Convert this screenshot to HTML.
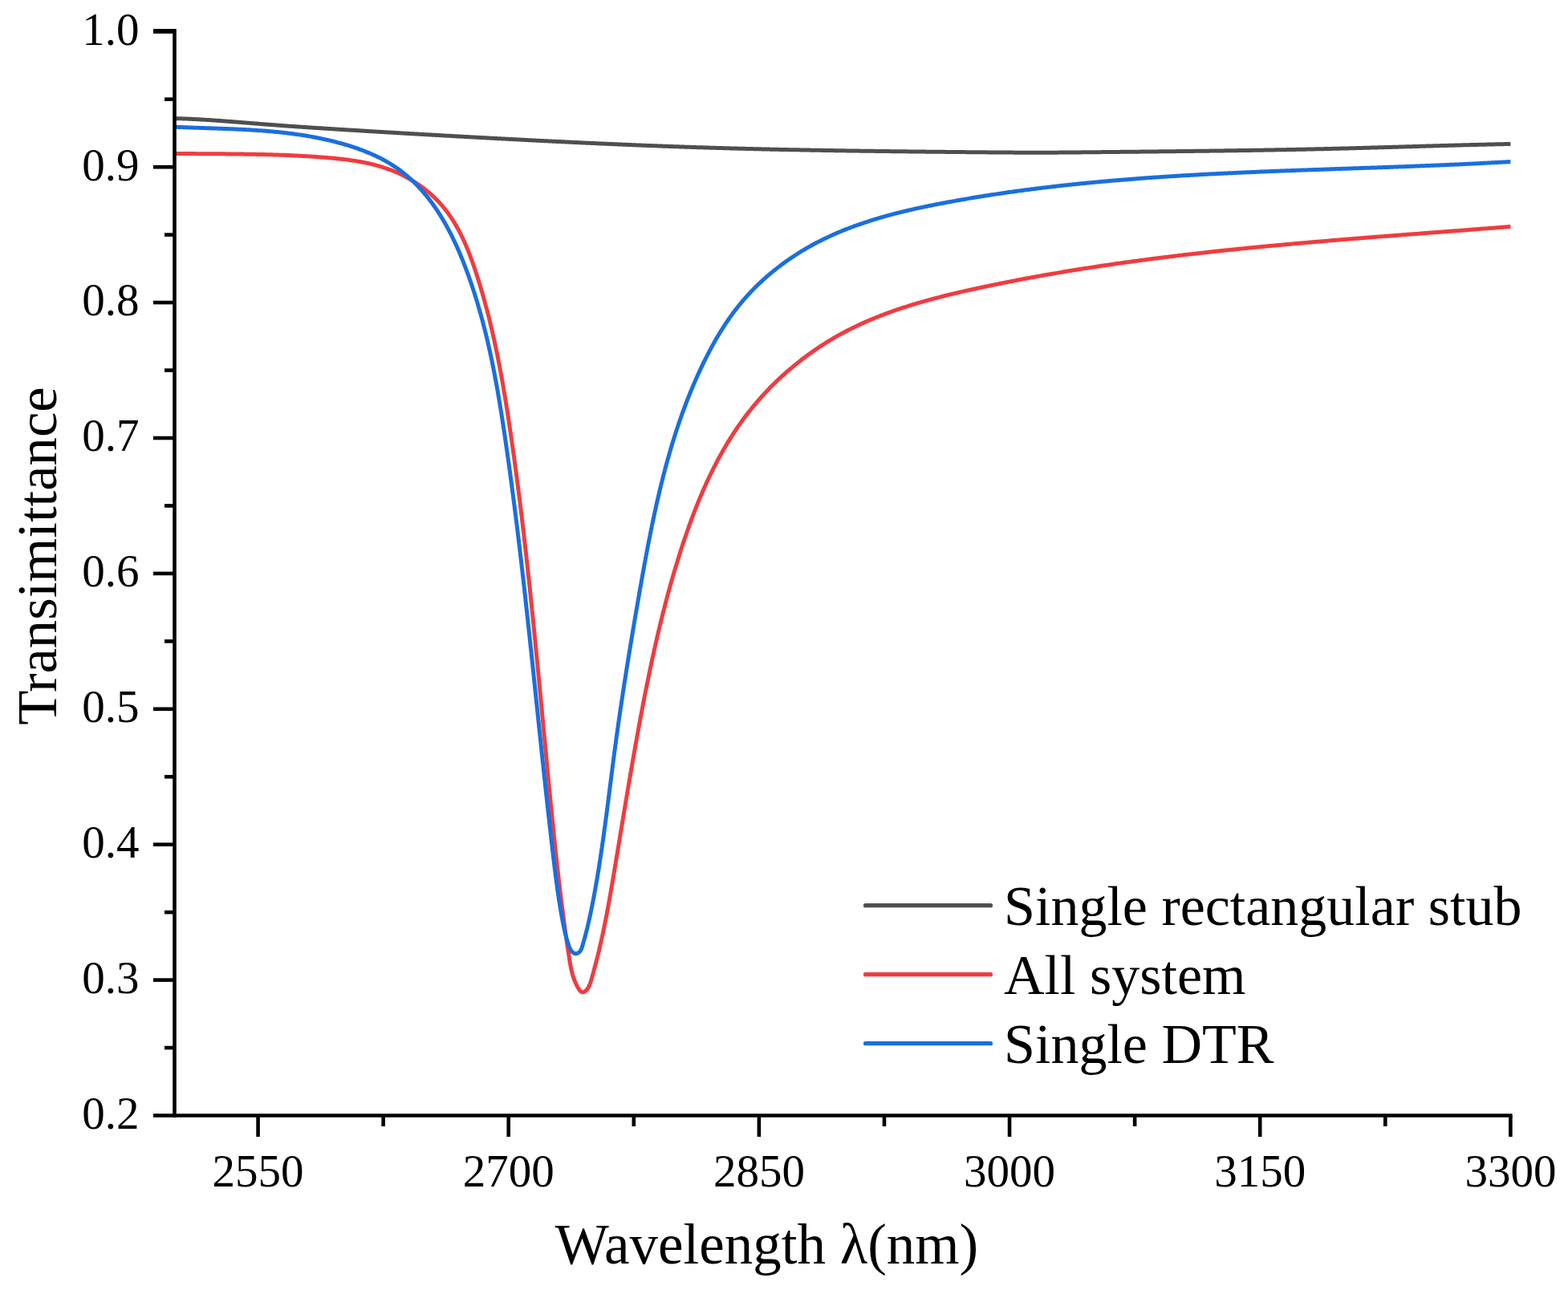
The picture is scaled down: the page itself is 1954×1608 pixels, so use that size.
<!DOCTYPE html>
<html><head><meta charset="utf-8"><title>Transimittance</title>
<style>
html,body{margin:0;padding:0;background:#fff;}
body{width:1954px;height:1608px;overflow:hidden;}
svg{display:block;}
text{font-family:"Liberation Serif","Times New Roman",serif;fill:#000;}
</style></head><body>
<svg width="1954" height="1608" viewBox="0 0 1954 1608">
<rect width="1954" height="1608" fill="#fff"/>
<polyline fill="none" stroke="#4f4f4f" stroke-width="5.0" stroke-linejoin="round" stroke-linecap="butt" points="217.50,147.58 218.33,147.60 219.17,147.62 220.00,147.64 220.84,147.67 221.67,147.69 222.50,147.72 223.34,147.74 224.17,147.77 225.00,147.80 225.84,147.83 226.67,147.86 227.50,147.89 228.34,147.92 229.17,147.95 230.00,147.98 230.83,148.02 231.67,148.05 232.50,148.08 233.33,148.12 234.17,148.15 235.00,148.19 235.83,148.23 236.66,148.27 237.50,148.30 238.33,148.34 239.16,148.38 239.99,148.42 240.83,148.46 241.66,148.51 242.49,148.55 243.32,148.59 244.16,148.63 244.99,148.68 245.82,148.72 246.65,148.77 247.48,148.81 248.32,148.86 249.15,148.91 249.98,148.95 250.81,149.00 251.64,149.05 252.48,149.10 253.31,149.15 254.14,149.20 254.97,149.25 255.80,149.30 256.63,149.35 257.47,149.40 258.30,149.45 259.13,149.51 259.96,149.56 260.79,149.61 261.62,149.67 262.46,149.72 263.29,149.78 264.12,149.83 264.95,149.89 265.78,149.94 266.61,150.00 267.45,150.06 268.28,150.12 269.11,150.17 269.94,150.23 270.77,150.29 271.60,150.35 272.43,150.41 273.26,150.47 274.10,150.53 274.93,150.59 275.76,150.65 276.59,150.71 277.42,150.77 278.25,150.83 279.08,150.89 279.91,150.95 280.74,151.02 281.58,151.08 282.41,151.14 283.24,151.20 284.07,151.27 284.90,151.33 285.73,151.39 286.56,151.46 287.39,151.52 288.22,151.59 289.05,151.65 289.88,151.72 290.72,151.78 291.55,151.85 292.38,151.91 293.21,151.98 294.04,152.04 294.87,152.11 295.70,152.17 296.53,152.24 297.36,152.30 298.19,152.37 299.02,152.44 299.85,152.50 300.69,152.57 301.52,152.64 302.35,152.70 303.18,152.77 304.01,152.84 304.84,152.90 305.67,152.97 306.50,153.04 307.33,153.11 308.16,153.17 308.99,153.24 309.82,153.31 310.65,153.37 311.49,153.44 312.32,153.51 313.15,153.58 313.98,153.64 314.81,153.71 315.64,153.78 316.47,153.84 317.30,153.91 318.13,153.98 318.96,154.04 319.79,154.11 320.62,154.18 321.46,154.24 322.29,154.31 323.12,154.38 323.95,154.44 324.78,154.51 325.61,154.58 326.44,154.64 327.27,154.71 328.10,154.77 328.93,154.84 329.76,154.90 330.59,154.97 331.43,155.04 332.26,155.10 333.09,155.17 333.92,155.23 334.75,155.29 335.58,155.36 336.41,155.42 337.24,155.49 338.07,155.55 338.90,155.61 339.74,155.68 340.57,155.74 341.40,155.80 342.23,155.86 343.06,155.93 343.89,155.99 344.72,156.05 345.55,156.11 346.39,156.17 347.22,156.24 348.05,156.30 348.88,156.36 349.71,156.42 350.54,156.48 351.37,156.54 352.20,156.60 353.04,156.66 353.87,156.72 354.70,156.78 355.53,156.84 356.36,156.90 357.19,156.96 358.02,157.02 358.85,157.08 359.69,157.14 360.52,157.20 361.35,157.26 362.18,157.31 363.01,157.37 363.84,157.43 364.67,157.49 365.51,157.55 366.34,157.60 367.17,157.66 368.00,157.72 368.83,157.78 369.66,157.83 370.50,157.89 371.33,157.95 372.16,158.00 372.99,158.06 373.82,158.12 374.65,158.17 375.48,158.23 376.32,158.29 377.15,158.34 377.98,158.40 378.81,158.45 379.64,158.51 380.47,158.57 381.31,158.62 382.14,158.68 382.97,158.73 383.80,158.79 384.63,158.84 385.46,158.90 386.30,158.95 387.13,159.01 387.96,159.06 388.79,159.12 389.62,159.17 390.45,159.22 391.29,159.28 392.12,159.33 392.95,159.39 393.78,159.44 394.61,159.49 395.44,159.55 396.28,159.60 397.11,159.66 397.94,159.71 398.77,159.76 399.60,159.82 400.44,159.87 401.27,159.92 402.10,159.98 402.93,160.03 403.76,160.08 404.59,160.13 405.43,160.19 406.26,160.24 407.09,160.29 407.92,160.35 408.75,160.40 409.59,160.45 410.42,160.50 411.25,160.56 412.08,160.61 412.91,160.66 413.74,160.71 414.58,160.76 415.41,160.82 416.24,160.87 417.07,160.92 417.90,160.97 418.74,161.02 419.57,161.08 420.40,161.13 421.23,161.18 422.06,161.23 422.90,161.28 423.73,161.34 424.56,161.39 425.39,161.44 426.22,161.49 427.05,161.54 427.89,161.59 428.72,161.64 429.55,161.70 430.38,161.75 431.21,161.80 432.05,161.85 432.88,161.90 433.71,161.95 434.54,162.00 435.37,162.06 436.21,162.11 437.04,162.16 437.87,162.21 438.70,162.26 439.53,162.31 440.37,162.36 441.20,162.41 442.03,162.46 442.86,162.52 443.69,162.57 444.52,162.62 445.36,162.67 446.19,162.72 447.02,162.77 447.85,162.82 448.68,162.87 449.52,162.92 450.35,162.97 451.18,163.02 452.01,163.07 452.84,163.12 453.68,163.17 454.51,163.22 455.34,163.27 456.17,163.33 457.00,163.38 457.84,163.43 458.67,163.48 459.50,163.53 460.33,163.58 461.16,163.63 462.00,163.68 462.83,163.73 463.66,163.78 464.49,163.83 465.32,163.88 466.15,163.93 466.99,163.98 467.82,164.03 468.65,164.08 469.48,164.13 470.31,164.18 471.15,164.23 471.98,164.28 472.81,164.33 473.64,164.38 474.47,164.43 475.31,164.47 476.14,164.52 476.97,164.57 477.80,164.62 478.63,164.67 479.47,164.72 480.30,164.77 481.13,164.82 481.96,164.87 482.79,164.92 483.63,164.97 484.46,165.02 485.29,165.07 486.12,165.12 486.95,165.17 487.79,165.21 488.62,165.26 489.45,165.31 490.28,165.36 491.11,165.41 491.95,165.46 492.78,165.51 493.61,165.56 494.44,165.61 495.27,165.66 496.11,165.70 496.94,165.75 497.77,165.80 498.60,165.85 499.43,165.90 500.27,165.95 501.10,166.00 501.93,166.04 502.76,166.09 503.59,166.14 504.43,166.19 505.26,166.24 506.09,166.29 506.92,166.34 507.75,166.38 508.59,166.43 509.42,166.48 510.25,166.53 511.08,166.58 511.91,166.63 512.75,166.67 513.58,166.72 514.41,166.77 515.24,166.82 516.07,166.87 516.91,166.91 517.74,166.96 518.57,167.01 519.40,167.06 520.24,167.11 521.07,167.15 521.90,167.20 522.73,167.25 523.56,167.30 524.40,167.34 525.23,167.39 526.06,167.44 526.89,167.49 527.72,167.54 528.56,167.58 529.39,167.63 530.22,167.68 531.05,167.73 531.88,167.77 532.72,167.82 533.55,167.87 534.38,167.91 535.21,167.96 536.04,168.01 536.88,168.06 537.71,168.10 538.54,168.15 539.37,168.20 540.21,168.25 541.04,168.29 541.87,168.34 542.70,168.39 543.53,168.43 544.37,168.48 545.20,168.53 546.03,168.57 546.86,168.62 547.69,168.67 548.53,168.71 549.36,168.76 550.19,168.81 551.02,168.86 551.85,168.90 552.69,168.95 553.52,169.00 554.35,169.04 555.18,169.09 556.02,169.13 556.85,169.18 557.68,169.23 558.51,169.27 559.34,169.32 560.18,169.37 561.01,169.41 561.84,169.46 562.67,169.51 563.50,169.55 564.34,169.60 565.17,169.65 566.00,169.69 566.83,169.74 567.67,169.78 568.50,169.83 569.33,169.88 570.16,169.92 570.99,169.97 571.83,170.01 572.66,170.06 573.49,170.11 574.32,170.15 575.16,170.20 575.99,170.24 576.82,170.29 577.65,170.33 578.48,170.38 579.32,170.43 580.15,170.47 580.98,170.52 581.81,170.56 582.65,170.61 583.48,170.65 584.31,170.70 585.14,170.75 585.97,170.79 586.81,170.84 587.64,170.88 588.47,170.93 589.30,170.97 590.14,171.02 590.97,171.06 591.80,171.11 592.63,171.15 593.46,171.20 594.30,171.24 595.13,171.29 595.96,171.33 596.79,171.38 597.63,171.43 598.46,171.47 599.29,171.52 600.12,171.56 600.95,171.61 601.79,171.65 602.62,171.69 603.45,171.74 604.28,171.78 605.12,171.83 605.95,171.87 606.78,171.92 607.61,171.96 608.44,172.01 609.28,172.05 610.11,172.10 610.94,172.14 611.77,172.19 612.61,172.23 613.44,172.28 614.27,172.32 615.10,172.37 615.94,172.41 616.77,172.45 617.60,172.50 618.43,172.54 619.26,172.59 620.10,172.63 620.93,172.68 621.76,172.72 622.59,172.76 623.43,172.81 624.26,172.85 625.09,172.90 625.92,172.94 626.76,172.98 627.59,173.03 628.42,173.07 629.25,173.12 630.08,173.16 630.92,173.20 631.75,173.25 632.58,173.29 633.41,173.34 634.25,173.38 635.08,173.42 635.91,173.47 636.74,173.51 637.58,173.55 638.41,173.60 639.24,173.64 640.07,173.68 640.91,173.73 641.74,173.77 642.57,173.81 643.40,173.86 644.24,173.90 645.07,173.94 645.90,173.99 646.73,174.03 647.56,174.07 648.40,174.12 649.23,174.16 650.06,174.20 650.89,174.25 651.73,174.29 652.56,174.33 653.39,174.37 654.22,174.42 655.06,174.46 655.89,174.50 656.72,174.54 657.55,174.59 658.39,174.63 659.22,174.67 660.05,174.72 660.88,174.76 661.72,174.80 662.55,174.84 663.38,174.88 664.21,174.93 665.05,174.97 665.88,175.01 666.71,175.05 667.54,175.10 668.38,175.14 669.21,175.18 670.04,175.22 670.87,175.26 671.71,175.31 672.54,175.35 673.37,175.39 674.20,175.43 675.03,175.47 675.87,175.52 676.70,175.56 677.53,175.60 678.36,175.64 679.20,175.68 680.03,175.72 680.86,175.76 681.69,175.81 682.53,175.85 683.36,175.89 684.19,175.93 685.02,175.97 685.86,176.01 686.69,176.05 687.52,176.09 688.35,176.14 689.19,176.18 690.02,176.22 690.85,176.26 691.68,176.30 692.52,176.34 693.35,176.38 694.18,176.42 695.01,176.46 695.85,176.50 696.68,176.54 697.51,176.58 698.35,176.62 699.18,176.67 700.01,176.71 700.84,176.75 701.68,176.79 702.51,176.83 703.34,176.87 704.17,176.91 705.01,176.95 705.84,176.99 706.67,177.03 707.50,177.07 708.34,177.11 709.17,177.15 710.00,177.19 710.83,177.23 711.67,177.27 712.50,177.31 713.33,177.34 714.16,177.38 715.00,177.42 715.83,177.46 716.66,177.50 717.49,177.54 718.33,177.58 719.16,177.62 719.99,177.66 720.82,177.70 721.66,177.74 722.49,177.78 723.32,177.82 724.15,177.85 724.99,177.89 725.82,177.93 726.65,177.97 727.49,178.01 728.32,178.05 729.15,178.09 729.98,178.13 730.82,178.16 731.65,178.20 732.48,178.24 733.31,178.28 734.15,178.32 734.98,178.36 735.81,178.39 736.64,178.43 737.48,178.47 738.31,178.51 739.14,178.55 739.97,178.58 740.81,178.62 741.64,178.66 742.47,178.70 743.31,178.73 744.14,178.77 744.97,178.81 745.80,178.85 746.64,178.88 747.47,178.92 748.30,178.96 749.13,179.00 749.97,179.03 750.80,179.07 751.63,179.11 752.47,179.14 753.30,179.18 754.13,179.22 754.96,179.25 755.80,179.29 756.63,179.33 757.46,179.36 758.29,179.40 759.13,179.44 759.96,179.47 760.79,179.51 761.62,179.55 762.46,179.58 763.29,179.62 764.12,179.66 764.96,179.69 765.79,179.73 766.62,179.76 767.45,179.80 768.29,179.84 769.12,179.87 769.95,179.91 770.78,179.94 771.62,179.98 772.45,180.01 773.28,180.05 774.12,180.08 774.95,180.12 775.78,180.15 776.61,180.19 777.45,180.23 778.28,180.26 779.11,180.30 779.95,180.33 780.78,180.36 781.61,180.40 782.44,180.43 783.28,180.47 784.11,180.50 784.94,180.54 785.77,180.57 786.61,180.61 787.44,180.64 788.27,180.68 789.11,180.71 789.94,180.74 790.77,180.78 791.60,180.81 792.44,180.85 793.27,180.88 794.10,180.91 794.94,180.95 795.77,180.98 796.60,181.01 797.43,181.05 798.27,181.08 799.10,181.12 799.93,181.15 800.77,181.18 801.60,181.21 802.43,181.25 803.26,181.28 804.10,181.31 804.93,181.35 805.76,181.38 806.60,181.41 807.43,181.45 808.26,181.48 809.09,181.51 809.93,181.54 810.76,181.58 811.59,181.61 812.43,181.64 813.26,181.67 814.09,181.70 814.92,181.74 815.76,181.77 816.59,181.80 817.42,181.83 818.26,181.86 819.09,181.90 819.92,181.93 820.75,181.96 821.59,181.99 822.42,182.02 823.25,182.05 824.09,182.08 824.92,182.12 825.75,182.15 826.58,182.18 827.42,182.21 828.25,182.24 829.08,182.27 829.92,182.30 830.75,182.33 831.58,182.36 832.41,182.39 833.25,182.42 834.08,182.45 834.91,182.48 835.75,182.51 836.58,182.54 837.41,182.57 838.25,182.60 839.08,182.63 839.91,182.66 840.74,182.69 841.58,182.72 842.41,182.75 843.24,182.78 844.08,182.81 844.91,182.84 845.74,182.87 846.57,182.90 847.41,182.93 848.24,182.96 849.07,182.99 849.91,183.01 850.74,183.04 851.57,183.07 852.41,183.10 853.24,183.13 854.07,183.16 854.90,183.19 855.74,183.21 856.57,183.24 857.40,183.27 858.24,183.30 859.07,183.33 859.90,183.36 860.74,183.38 861.57,183.41 862.40,183.44 863.23,183.47 864.07,183.49 864.90,183.52 865.73,183.55 866.57,183.58 867.40,183.60 868.23,183.63 869.07,183.66 869.90,183.68 870.73,183.71 871.57,183.74 872.40,183.76 873.23,183.79 874.06,183.82 874.90,183.84 875.73,183.87 876.56,183.90 877.40,183.92 878.23,183.95 879.06,183.97 879.90,184.00 880.73,184.03 881.56,184.05 882.39,184.08 883.23,184.10 884.06,184.13 884.89,184.15 885.73,184.18 886.56,184.20 887.39,184.23 888.23,184.25 889.06,184.28 889.89,184.30 890.73,184.33 891.56,184.35 892.39,184.38 893.23,184.40 894.06,184.43 894.89,184.45 895.72,184.48 896.56,184.50 897.39,184.53 898.22,184.55 899.06,184.57 899.89,184.60 900.72,184.62 901.56,184.64 902.39,184.67 903.22,184.69 904.06,184.72 904.89,184.74 905.72,184.76 906.56,184.79 907.39,184.81 908.22,184.83 909.05,184.86 909.89,184.88 910.72,184.90 911.55,184.92 912.39,184.95 913.22,184.97 914.05,184.99 914.89,185.01 915.72,185.04 916.55,185.06 917.39,185.08 918.22,185.10 919.05,185.13 919.89,185.15 920.72,185.17 921.55,185.19 922.39,185.21 923.22,185.24 924.05,185.26 924.88,185.28 925.72,185.30 926.55,185.32 927.38,185.34 928.22,185.37 929.05,185.39 929.88,185.41 930.72,185.43 931.55,185.45 932.38,185.47 933.22,185.49 934.05,185.51 934.88,185.53 935.72,185.55 936.55,185.58 937.38,185.60 938.22,185.62 939.05,185.64 939.88,185.66 940.72,185.68 941.55,185.70 942.38,185.72 943.22,185.74 944.05,185.76 944.88,185.78 945.72,185.80 946.55,185.82 947.38,185.84 948.21,185.86 949.05,185.88 949.88,185.90 950.71,185.92 951.55,185.94 952.38,185.95 953.21,185.97 954.05,185.99 954.88,186.01 955.71,186.03 956.55,186.05 957.38,186.07 958.21,186.09 959.05,186.11 959.88,186.13 960.71,186.14 961.55,186.16 962.38,186.18 963.21,186.20 964.05,186.22 964.88,186.24 965.71,186.26 966.55,186.27 967.38,186.29 968.21,186.31 969.05,186.33 969.88,186.35 970.71,186.36 971.55,186.38 972.38,186.40 973.21,186.42 974.05,186.43 974.88,186.45 975.71,186.47 976.55,186.49 977.38,186.50 978.21,186.52 979.05,186.54 979.88,186.56 980.71,186.57 981.55,186.59 982.38,186.61 983.21,186.63 984.05,186.64 984.88,186.66 985.71,186.68 986.55,186.69 987.38,186.71 988.21,186.73 989.05,186.74 989.88,186.76 990.71,186.78 991.55,186.79 992.38,186.81 993.21,186.82 994.05,186.84 994.88,186.86 995.71,186.87 996.55,186.89 997.38,186.91 998.21,186.92 999.05,186.94 999.88,186.95 1000.71,186.97 1001.55,186.98 1002.38,187.00 1003.21,187.02 1004.05,187.03 1004.88,187.05 1005.71,187.06 1006.55,187.08 1007.38,187.09 1008.21,187.11 1009.05,187.12 1009.88,187.14 1010.71,187.15 1011.55,187.17 1012.38,187.18 1013.21,187.20 1014.05,187.21 1014.88,187.23 1015.71,187.24 1016.55,187.26 1017.38,187.27 1018.21,187.29 1019.05,187.30 1019.88,187.32 1020.71,187.33 1021.55,187.35 1022.38,187.36 1023.21,187.37 1024.05,187.39 1024.88,187.40 1025.71,187.42 1026.55,187.43 1027.38,187.45 1028.21,187.46 1029.05,187.47 1029.88,187.49 1030.71,187.50 1031.55,187.52 1032.38,187.53 1033.21,187.54 1034.05,187.56 1034.88,187.57 1035.71,187.58 1036.55,187.60 1037.38,187.61 1038.21,187.62 1039.05,187.64 1039.88,187.65 1040.71,187.66 1041.55,187.68 1042.38,187.69 1043.21,187.70 1044.05,187.72 1044.88,187.73 1045.72,187.74 1046.55,187.76 1047.38,187.77 1048.22,187.78 1049.05,187.80 1049.88,187.81 1050.72,187.82 1051.55,187.83 1052.38,187.85 1053.22,187.86 1054.05,187.87 1054.88,187.88 1055.72,187.90 1056.55,187.91 1057.38,187.92 1058.22,187.93 1059.05,187.95 1059.88,187.96 1060.72,187.97 1061.55,187.98 1062.38,188.00 1063.22,188.01 1064.05,188.02 1064.88,188.03 1065.72,188.04 1066.55,188.06 1067.38,188.07 1068.22,188.08 1069.05,188.09 1069.88,188.10 1070.72,188.12 1071.55,188.13 1072.38,188.14 1073.22,188.15 1074.05,188.16 1074.88,188.17 1075.72,188.19 1076.55,188.20 1077.39,188.21 1078.22,188.22 1079.05,188.23 1079.89,188.24 1080.72,188.25 1081.55,188.27 1082.39,188.28 1083.22,188.29 1084.05,188.30 1084.89,188.31 1085.72,188.32 1086.55,188.33 1087.39,188.34 1088.22,188.35 1089.05,188.37 1089.89,188.38 1090.72,188.39 1091.55,188.40 1092.39,188.41 1093.22,188.42 1094.05,188.43 1094.89,188.44 1095.72,188.45 1096.55,188.46 1097.39,188.47 1098.22,188.48 1099.05,188.49 1099.89,188.51 1100.72,188.52 1101.55,188.53 1102.39,188.54 1103.22,188.55 1104.06,188.56 1104.89,188.57 1105.72,188.58 1106.56,188.59 1107.39,188.60 1108.22,188.61 1109.06,188.62 1109.89,188.63 1110.72,188.64 1111.56,188.65 1112.39,188.66 1113.22,188.67 1114.06,188.68 1114.89,188.69 1115.72,188.70 1116.56,188.71 1117.39,188.72 1118.22,188.73 1119.06,188.74 1119.89,188.75 1120.72,188.76 1121.56,188.77 1122.39,188.78 1123.22,188.79 1124.06,188.80 1124.89,188.81 1125.73,188.82 1126.56,188.83 1127.39,188.84 1128.23,188.85 1129.06,188.85 1129.89,188.86 1130.73,188.87 1131.56,188.88 1132.39,188.89 1133.23,188.90 1134.06,188.91 1134.89,188.92 1135.73,188.93 1136.56,188.94 1137.39,188.95 1138.23,188.96 1139.06,188.97 1139.89,188.98 1140.73,188.99 1141.56,188.99 1142.39,189.00 1143.23,189.01 1144.06,189.02 1144.89,189.03 1145.73,189.04 1146.56,189.05 1147.40,189.06 1148.23,189.07 1149.06,189.08 1149.90,189.09 1150.73,189.09 1151.56,189.10 1152.40,189.11 1153.23,189.12 1154.06,189.13 1154.90,189.14 1155.73,189.15 1156.56,189.16 1157.40,189.16 1158.23,189.17 1159.06,189.18 1159.90,189.19 1160.73,189.20 1161.56,189.21 1162.40,189.22 1163.23,189.23 1164.06,189.23 1164.90,189.24 1165.73,189.25 1166.56,189.26 1167.40,189.27 1168.23,189.28 1169.07,189.29 1169.90,189.29 1170.73,189.30 1171.57,189.31 1172.40,189.32 1173.23,189.33 1174.07,189.34 1174.90,189.34 1175.73,189.35 1176.57,189.36 1177.40,189.37 1178.23,189.38 1179.07,189.39 1179.90,189.39 1180.73,189.40 1181.57,189.41 1182.40,189.42 1183.23,189.43 1184.07,189.44 1184.90,189.44 1185.73,189.45 1186.57,189.46 1187.40,189.47 1188.23,189.48 1189.07,189.49 1189.90,189.49 1190.74,189.50 1191.57,189.51 1192.40,189.52 1193.24,189.53 1194.07,189.53 1194.90,189.54 1195.74,189.55 1196.57,189.56 1197.40,189.57 1198.24,189.57 1199.07,189.58 1199.90,189.59 1200.74,189.60 1201.57,189.61 1202.40,189.61 1203.24,189.62 1204.07,189.63 1204.90,189.64 1205.74,189.65 1206.57,189.65 1207.40,189.66 1208.24,189.67 1209.07,189.68 1209.90,189.69 1210.74,189.69 1211.57,189.70 1212.40,189.71 1213.24,189.72 1214.07,189.73 1214.90,189.73 1215.74,189.74 1216.57,189.75 1217.41,189.76 1218.24,189.77 1219.07,189.77 1219.91,189.78 1220.74,189.79 1221.57,189.80 1222.41,189.80 1223.24,189.81 1224.07,189.82 1224.91,189.83 1225.74,189.84 1226.57,189.84 1227.41,189.85 1228.24,189.86 1229.07,189.87 1229.91,189.87 1230.74,189.88 1231.57,189.89 1232.41,189.90 1233.24,189.90 1234.07,189.91 1234.91,189.92 1235.74,189.93 1236.57,189.93 1237.41,189.94 1238.24,189.95 1239.07,189.95 1239.91,189.96 1240.74,189.97 1241.57,189.98 1242.41,189.98 1243.24,189.99 1244.07,190.00 1244.91,190.00 1245.74,190.01 1246.58,190.02 1247.41,190.02 1248.24,190.03 1249.08,190.04 1249.91,190.04 1250.74,190.05 1251.58,190.05 1252.41,190.06 1253.24,190.07 1254.08,190.07 1254.91,190.08 1255.74,190.08 1256.58,190.09 1257.41,190.09 1258.24,190.10 1259.08,190.10 1259.91,190.11 1260.74,190.11 1261.58,190.12 1262.41,190.12 1263.24,190.13 1264.08,190.13 1264.91,190.14 1265.74,190.14 1266.58,190.15 1267.41,190.15 1268.24,190.16 1269.08,190.16 1269.91,190.16 1270.74,190.17 1271.58,190.17 1272.41,190.17 1273.24,190.18 1274.08,190.18 1274.91,190.18 1275.74,190.19 1276.58,190.19 1277.41,190.19 1278.24,190.19 1279.08,190.20 1279.91,190.20 1280.75,190.20 1281.58,190.20 1282.41,190.21 1283.25,190.21 1284.08,190.21 1284.91,190.21 1285.75,190.21 1286.58,190.21 1287.41,190.21 1288.25,190.21 1289.08,190.21 1289.91,190.21 1290.75,190.21 1291.58,190.21 1292.41,190.21 1293.25,190.21 1294.08,190.21 1294.91,190.21 1295.75,190.21 1296.58,190.21 1297.41,190.21 1298.25,190.21 1299.08,190.21 1299.91,190.21 1300.75,190.20 1301.58,190.20 1302.41,190.20 1303.25,190.20 1304.08,190.19 1304.91,190.19 1305.75,190.19 1306.58,190.19 1307.42,190.18 1308.25,190.18 1309.08,190.18 1309.92,190.17 1310.75,190.17 1311.58,190.16 1312.42,190.16 1313.25,190.15 1314.08,190.15 1314.92,190.15 1315.75,190.14 1316.58,190.14 1317.42,190.13 1318.25,190.13 1319.08,190.12 1319.92,190.11 1320.75,190.11 1321.58,190.10 1322.42,190.10 1323.25,190.09 1324.08,190.08 1324.92,190.08 1325.75,190.07 1326.58,190.07 1327.42,190.06 1328.25,190.05 1329.08,190.05 1329.92,190.04 1330.75,190.03 1331.59,190.02 1332.42,190.02 1333.25,190.01 1334.09,190.00 1334.92,190.00 1335.75,189.99 1336.59,189.98 1337.42,189.97 1338.25,189.97 1339.09,189.96 1339.92,189.95 1340.75,189.94 1341.59,189.93 1342.42,189.93 1343.25,189.92 1344.09,189.91 1344.92,189.90 1345.75,189.89 1346.59,189.89 1347.42,189.88 1348.25,189.87 1349.09,189.86 1349.92,189.85 1350.75,189.84 1351.59,189.84 1352.42,189.83 1353.25,189.82 1354.09,189.81 1354.92,189.80 1355.76,189.79 1356.59,189.78 1357.42,189.78 1358.26,189.77 1359.09,189.76 1359.92,189.75 1360.76,189.74 1361.59,189.73 1362.42,189.72 1363.26,189.71 1364.09,189.71 1364.92,189.70 1365.76,189.69 1366.59,189.68 1367.42,189.67 1368.26,189.66 1369.09,189.65 1369.92,189.65 1370.76,189.64 1371.59,189.63 1372.42,189.62 1373.26,189.61 1374.09,189.60 1374.92,189.59 1375.76,189.59 1376.59,189.58 1377.43,189.57 1378.26,189.56 1379.09,189.55 1379.93,189.54 1380.76,189.54 1381.59,189.53 1382.43,189.52 1383.26,189.51 1384.09,189.50 1384.93,189.49 1385.76,189.48 1386.59,189.48 1387.43,189.47 1388.26,189.46 1389.09,189.45 1389.93,189.44 1390.76,189.43 1391.59,189.42 1392.43,189.42 1393.26,189.41 1394.09,189.40 1394.93,189.39 1395.76,189.38 1396.59,189.37 1397.43,189.36 1398.26,189.36 1399.10,189.35 1399.93,189.34 1400.76,189.33 1401.60,189.32 1402.43,189.31 1403.26,189.30 1404.10,189.30 1404.93,189.29 1405.76,189.28 1406.60,189.27 1407.43,189.26 1408.26,189.25 1409.10,189.24 1409.93,189.24 1410.76,189.23 1411.60,189.22 1412.43,189.21 1413.26,189.20 1414.10,189.19 1414.93,189.18 1415.76,189.17 1416.60,189.17 1417.43,189.16 1418.26,189.15 1419.10,189.14 1419.93,189.13 1420.76,189.12 1421.60,189.11 1422.43,189.11 1423.27,189.10 1424.10,189.09 1424.93,189.08 1425.77,189.07 1426.60,189.06 1427.43,189.05 1428.27,189.04 1429.10,189.03 1429.93,189.03 1430.77,189.02 1431.60,189.01 1432.43,189.00 1433.27,188.99 1434.10,188.98 1434.93,188.97 1435.77,188.96 1436.60,188.95 1437.43,188.95 1438.27,188.94 1439.10,188.93 1439.93,188.92 1440.77,188.91 1441.60,188.90 1442.43,188.89 1443.27,188.88 1444.10,188.87 1444.93,188.86 1445.77,188.86 1446.60,188.85 1447.44,188.84 1448.27,188.83 1449.10,188.82 1449.94,188.81 1450.77,188.80 1451.60,188.79 1452.44,188.78 1453.27,188.77 1454.10,188.76 1454.94,188.75 1455.77,188.74 1456.60,188.74 1457.44,188.73 1458.27,188.72 1459.10,188.71 1459.94,188.70 1460.77,188.69 1461.60,188.68 1462.44,188.67 1463.27,188.66 1464.10,188.65 1464.94,188.64 1465.77,188.63 1466.60,188.62 1467.44,188.61 1468.27,188.60 1469.10,188.59 1469.94,188.58 1470.77,188.57 1471.60,188.56 1472.44,188.55 1473.27,188.54 1474.10,188.53 1474.94,188.52 1475.77,188.52 1476.61,188.51 1477.44,188.50 1478.27,188.49 1479.11,188.48 1479.94,188.47 1480.77,188.46 1481.61,188.45 1482.44,188.44 1483.27,188.43 1484.11,188.42 1484.94,188.41 1485.77,188.40 1486.61,188.39 1487.44,188.38 1488.27,188.37 1489.11,188.35 1489.94,188.34 1490.77,188.33 1491.61,188.32 1492.44,188.31 1493.27,188.30 1494.11,188.29 1494.94,188.28 1495.77,188.27 1496.61,188.26 1497.44,188.25 1498.27,188.24 1499.11,188.23 1499.94,188.22 1500.77,188.21 1501.61,188.20 1502.44,188.19 1503.27,188.18 1504.11,188.17 1504.94,188.16 1505.77,188.14 1506.61,188.13 1507.44,188.12 1508.27,188.11 1509.11,188.10 1509.94,188.09 1510.78,188.08 1511.61,188.07 1512.44,188.06 1513.28,188.05 1514.11,188.04 1514.94,188.02 1515.78,188.01 1516.61,188.00 1517.44,187.99 1518.28,187.98 1519.11,187.97 1519.94,187.96 1520.78,187.94 1521.61,187.93 1522.44,187.92 1523.28,187.91 1524.11,187.90 1524.94,187.89 1525.78,187.88 1526.61,187.86 1527.44,187.85 1528.28,187.84 1529.11,187.83 1529.94,187.82 1530.78,187.81 1531.61,187.79 1532.44,187.78 1533.28,187.77 1534.11,187.76 1534.94,187.75 1535.78,187.73 1536.61,187.72 1537.44,187.71 1538.28,187.70 1539.11,187.69 1539.94,187.67 1540.78,187.66 1541.61,187.65 1542.44,187.64 1543.28,187.62 1544.11,187.61 1544.94,187.60 1545.78,187.59 1546.61,187.57 1547.44,187.56 1548.28,187.55 1549.11,187.54 1549.94,187.52 1550.78,187.51 1551.61,187.50 1552.44,187.48 1553.28,187.47 1554.11,187.46 1554.94,187.45 1555.78,187.43 1556.61,187.42 1557.44,187.41 1558.28,187.39 1559.11,187.38 1559.94,187.37 1560.78,187.35 1561.61,187.34 1562.44,187.33 1563.28,187.31 1564.11,187.30 1564.94,187.29 1565.78,187.27 1566.61,187.26 1567.44,187.25 1568.28,187.23 1569.11,187.22 1569.94,187.20 1570.78,187.19 1571.61,187.18 1572.44,187.16 1573.28,187.15 1574.11,187.13 1574.94,187.12 1575.78,187.11 1576.61,187.09 1577.44,187.08 1578.28,187.06 1579.11,187.05 1579.95,187.03 1580.78,187.02 1581.61,187.01 1582.45,186.99 1583.28,186.98 1584.11,186.96 1584.95,186.95 1585.78,186.93 1586.61,186.92 1587.45,186.90 1588.28,186.89 1589.11,186.87 1589.94,186.86 1590.78,186.84 1591.61,186.83 1592.44,186.81 1593.28,186.80 1594.11,186.78 1594.94,186.77 1595.78,186.75 1596.61,186.74 1597.44,186.72 1598.28,186.71 1599.11,186.69 1599.94,186.67 1600.78,186.66 1601.61,186.64 1602.44,186.63 1603.28,186.61 1604.11,186.59 1604.94,186.58 1605.78,186.56 1606.61,186.55 1607.44,186.53 1608.28,186.51 1609.11,186.50 1609.94,186.48 1610.78,186.47 1611.61,186.45 1612.44,186.43 1613.28,186.42 1614.11,186.40 1614.94,186.38 1615.78,186.37 1616.61,186.35 1617.44,186.33 1618.28,186.32 1619.11,186.30 1619.94,186.28 1620.78,186.26 1621.61,186.25 1622.44,186.23 1623.28,186.21 1624.11,186.20 1624.94,186.18 1625.78,186.16 1626.61,186.14 1627.44,186.13 1628.28,186.11 1629.11,186.09 1629.94,186.07 1630.78,186.05 1631.61,186.04 1632.44,186.02 1633.28,186.00 1634.11,185.98 1634.94,185.96 1635.78,185.95 1636.61,185.93 1637.44,185.91 1638.28,185.89 1639.11,185.87 1639.94,185.85 1640.78,185.84 1641.61,185.82 1642.44,185.80 1643.28,185.78 1644.11,185.76 1644.94,185.74 1645.78,185.72 1646.61,185.70 1647.44,185.68 1648.28,185.66 1649.11,185.65 1649.94,185.63 1650.78,185.61 1651.61,185.59 1652.44,185.57 1653.27,185.55 1654.11,185.53 1654.94,185.51 1655.77,185.49 1656.61,185.47 1657.44,185.45 1658.27,185.43 1659.11,185.41 1659.94,185.39 1660.77,185.37 1661.61,185.35 1662.44,185.33 1663.27,185.31 1664.11,185.29 1664.94,185.27 1665.77,185.25 1666.61,185.22 1667.44,185.20 1668.27,185.18 1669.11,185.16 1669.94,185.14 1670.77,185.12 1671.61,185.10 1672.44,185.08 1673.27,185.06 1674.11,185.03 1674.94,185.01 1675.77,184.99 1676.61,184.97 1677.44,184.95 1678.27,184.93 1679.10,184.91 1679.94,184.88 1680.77,184.86 1681.60,184.84 1682.44,184.82 1683.27,184.80 1684.10,184.77 1684.94,184.75 1685.77,184.73 1686.60,184.71 1687.44,184.69 1688.27,184.66 1689.10,184.64 1689.94,184.62 1690.77,184.60 1691.60,184.57 1692.44,184.55 1693.27,184.53 1694.10,184.51 1694.94,184.48 1695.77,184.46 1696.60,184.44 1697.44,184.42 1698.27,184.39 1699.10,184.37 1699.93,184.35 1700.77,184.32 1701.60,184.30 1702.43,184.28 1703.27,184.25 1704.10,184.23 1704.93,184.21 1705.77,184.19 1706.60,184.16 1707.43,184.14 1708.27,184.12 1709.10,184.09 1709.93,184.07 1710.77,184.05 1711.60,184.02 1712.43,184.00 1713.27,183.97 1714.10,183.95 1714.93,183.93 1715.77,183.90 1716.60,183.88 1717.43,183.86 1718.26,183.83 1719.10,183.81 1719.93,183.79 1720.76,183.76 1721.60,183.74 1722.43,183.71 1723.26,183.69 1724.10,183.67 1724.93,183.64 1725.76,183.62 1726.60,183.59 1727.43,183.57 1728.26,183.55 1729.10,183.52 1729.93,183.50 1730.76,183.48 1731.60,183.45 1732.43,183.43 1733.26,183.40 1734.09,183.38 1734.93,183.35 1735.76,183.33 1736.59,183.31 1737.43,183.28 1738.26,183.26 1739.09,183.23 1739.93,183.21 1740.76,183.19 1741.59,183.16 1742.43,183.14 1743.26,183.11 1744.09,183.09 1744.93,183.06 1745.76,183.04 1746.59,183.02 1747.43,182.99 1748.26,182.97 1749.09,182.94 1749.92,182.92 1750.76,182.89 1751.59,182.87 1752.42,182.85 1753.26,182.82 1754.09,182.80 1754.92,182.77 1755.76,182.75 1756.59,182.73 1757.42,182.70 1758.26,182.68 1759.09,182.65 1759.92,182.63 1760.76,182.60 1761.59,182.58 1762.42,182.56 1763.26,182.53 1764.09,182.51 1764.92,182.48 1765.75,182.46 1766.59,182.43 1767.42,182.41 1768.25,182.39 1769.09,182.36 1769.92,182.34 1770.75,182.31 1771.59,182.29 1772.42,182.27 1773.25,182.24 1774.09,182.22 1774.92,182.19 1775.75,182.17 1776.59,182.15 1777.42,182.12 1778.25,182.10 1779.09,182.07 1779.92,182.05 1780.75,182.03 1781.59,182.00 1782.42,181.98 1783.25,181.95 1784.08,181.93 1784.92,181.91 1785.75,181.88 1786.58,181.86 1787.42,181.84 1788.25,181.81 1789.08,181.79 1789.92,181.76 1790.75,181.74 1791.58,181.72 1792.42,181.69 1793.25,181.67 1794.08,181.65 1794.92,181.62 1795.75,181.60 1796.58,181.58 1797.42,181.55 1798.25,181.53 1799.08,181.51 1799.91,181.48 1800.75,181.46 1801.58,181.44 1802.41,181.41 1803.25,181.39 1804.08,181.37 1804.91,181.34 1805.75,181.32 1806.58,181.30 1807.41,181.28 1808.25,181.25 1809.08,181.23 1809.91,181.21 1810.75,181.18 1811.58,181.16 1812.41,181.14 1813.25,181.12 1814.08,181.09 1814.91,181.07 1815.75,181.05 1816.58,181.03 1817.41,181.00 1818.24,180.98 1819.08,180.96 1819.91,180.94 1820.74,180.92 1821.58,180.89 1822.41,180.87 1823.24,180.85 1824.08,180.83 1824.91,180.81 1825.74,180.78 1826.58,180.76 1827.41,180.74 1828.24,180.72 1829.08,180.70 1829.91,180.68 1830.74,180.65 1831.58,180.63 1832.41,180.61 1833.24,180.59 1834.08,180.57 1834.91,180.55 1835.74,180.53 1836.58,180.51 1837.41,180.48 1838.24,180.46 1839.07,180.44 1839.91,180.42 1840.74,180.40 1841.57,180.38 1842.41,180.36 1843.24,180.34 1844.07,180.32 1844.91,180.30 1845.74,180.28 1846.57,180.26 1847.41,180.24 1848.24,180.22 1849.07,180.20 1849.91,180.18 1850.74,180.16 1851.57,180.14 1852.41,180.12 1853.24,180.10 1854.07,180.08 1854.91,180.06 1855.74,180.04 1856.57,180.02 1857.41,180.00 1858.24,179.98 1859.07,179.96 1859.91,179.95 1860.74,179.93 1861.57,179.91 1862.41,179.89 1863.24,179.87 1864.07,179.85 1864.90,179.83 1865.74,179.82 1866.57,179.80 1867.40,179.78 1868.24,179.76 1869.07,179.74 1869.90,179.73 1870.74,179.71 1871.57,179.69 1872.40,179.67 1873.24,179.65 1874.07,179.64 1874.90,179.62 1875.74,179.60 1876.57,179.59 1877.40,179.57 1878.24,179.55 1879.07,179.53 1879.90,179.52 1880.74,179.50 1881.57,179.48 1882.40,179.47"/>
<polyline fill="none" stroke="#f03c40" stroke-width="5.0" stroke-linejoin="round" stroke-linecap="butt" points="217.50,191.39 219.06,191.41 220.63,191.43 222.20,191.44 223.76,191.46 225.33,191.47 226.89,191.49 228.46,191.50 230.02,191.52 231.59,191.53 233.15,191.54 234.71,191.56 236.28,191.57 237.84,191.58 239.40,191.59 240.96,191.60 242.53,191.62 244.09,191.63 245.65,191.64 247.21,191.65 248.77,191.66 250.33,191.67 251.89,191.68 253.45,191.69 255.01,191.70 256.57,191.71 258.13,191.72 259.69,191.73 261.25,191.74 262.81,191.75 264.37,191.76 265.93,191.77 267.48,191.78 269.04,191.79 270.60,191.80 272.16,191.81 273.72,191.82 275.27,191.83 276.83,191.84 278.39,191.85 279.94,191.87 281.50,191.88 283.06,191.89 284.61,191.91 286.17,191.92 287.73,191.93 289.28,191.95 290.84,191.96 292.39,191.98 293.95,192.00 295.50,192.01 297.06,192.03 298.62,192.05 300.17,192.07 301.73,192.09 303.28,192.11 304.84,192.13 306.39,192.15 307.95,192.18 309.50,192.20 311.06,192.22 312.61,192.25 314.16,192.28 315.72,192.30 317.27,192.33 318.83,192.36 320.38,192.39 321.94,192.42 323.49,192.46 325.05,192.49 326.60,192.52 328.16,192.56 329.71,192.60 331.26,192.63 332.82,192.67 334.37,192.71 335.93,192.76 337.48,192.80 339.04,192.84 340.59,192.89 342.15,192.94 343.70,192.99 345.26,193.04 346.81,193.09 348.37,193.14 349.92,193.19 351.48,193.25 353.03,193.31 354.59,193.37 356.14,193.43 357.70,193.49 359.25,193.55 360.81,193.62 362.36,193.69 363.92,193.76 365.48,193.83 367.03,193.90 368.59,193.98 370.15,194.05 371.70,194.13 373.26,194.21 374.82,194.29 376.37,194.38 377.93,194.46 379.49,194.55 381.05,194.64 382.60,194.73 384.16,194.83 385.72,194.92 387.28,195.02 388.84,195.12 390.40,195.22 391.95,195.33 393.51,195.44 395.07,195.54 396.63,195.66 398.19,195.77 399.75,195.89 401.31,196.01 402.87,196.13 404.44,196.25 406.00,196.38 407.56,196.50 409.12,196.64 410.68,196.77 412.24,196.91 413.80,197.05 415.36,197.19 416.93,197.34 418.49,197.49 420.05,197.65 421.61,197.81 423.16,197.98 424.72,198.15 426.28,198.32 427.84,198.50 429.39,198.69 430.94,198.88 432.50,199.08 434.05,199.28 435.60,199.49 437.15,199.71 438.70,199.93 440.24,200.16 441.79,200.40 443.33,200.65 444.87,200.90 446.41,201.16 447.94,201.43 449.48,201.70 451.01,201.99 452.54,202.28 454.07,202.58 455.59,202.89 457.11,203.21 458.63,203.54 460.15,203.88 461.66,204.23 463.18,204.59 464.68,204.96 466.19,205.34 467.69,205.73 469.19,206.13 470.69,206.55 472.18,206.97 473.67,207.41 475.15,207.85 476.63,208.31 478.11,208.78 479.58,209.27 481.05,209.76 482.52,210.27 483.98,210.79 485.44,211.33 486.89,211.87 488.34,212.44 489.78,213.01 491.22,213.60 492.66,214.20 494.09,214.82 495.51,215.45 496.93,216.10 498.35,216.76 499.76,217.43 501.16,218.11 502.56,218.81 503.95,219.53 505.33,220.25 506.71,220.99 508.08,221.75 509.45,222.51 510.80,223.29 512.15,224.08 513.50,224.89 514.83,225.70 516.16,226.53 517.48,227.38 518.79,228.23 520.09,229.10 521.39,229.98 522.67,230.87 523.95,231.77 525.21,232.69 526.47,233.62 527.72,234.56 528.96,235.51 530.18,236.47 531.40,237.45 532.61,238.43 533.81,239.43 534.99,240.44 536.17,241.46 537.34,242.49 538.49,243.53 539.63,244.59 540.76,245.65 541.88,246.73 542.99,247.81 544.08,248.91 545.16,250.02 546.23,251.14 547.29,252.26 548.33,253.40 549.36,254.55 550.38,255.71 551.38,256.88 552.37,258.06 553.35,259.24 554.32,260.44 555.27,261.65 556.21,262.86 557.14,264.09 558.05,265.32 558.95,266.57 559.85,267.82 560.72,269.08 561.59,270.35 562.45,271.63 563.29,272.91 564.13,274.20 564.95,275.50 565.76,276.81 566.56,278.13 567.35,279.45 568.13,280.78 568.91,282.12 569.67,283.46 570.42,284.81 571.16,286.17 571.89,287.54 572.61,288.91 573.32,290.28 574.03,291.67 574.72,293.05 575.41,294.45 576.08,295.85 576.75,297.25 577.41,298.66 578.06,300.08 578.71,301.50 579.34,302.92 579.97,304.35 580.59,305.79 581.21,307.23 581.81,308.67 582.41,310.12 583.01,311.57 583.59,313.02 584.17,314.48 584.74,315.94 585.31,317.41 585.87,318.87 586.43,320.35 586.97,321.82 587.52,323.30 588.06,324.78 588.59,326.26 589.12,327.74 589.64,329.23 590.15,330.72 590.67,332.21 591.18,333.70 591.68,335.19 592.18,336.69 592.67,338.18 593.17,339.68 593.65,341.18 594.14,342.68 594.62,344.18 595.10,345.67 595.57,347.18 596.04,348.68 596.51,350.18 596.97,351.68 597.44,353.18 597.89,354.69 598.35,356.19 598.80,357.69 599.25,359.20 599.70,360.70 600.14,362.21 600.58,363.71 601.01,365.22 601.45,366.73 601.88,368.23 602.31,369.74 602.73,371.25 603.15,372.76 603.57,374.27 603.99,375.78 604.40,377.29 604.81,378.80 605.22,380.31 605.63,381.82 606.03,383.33 606.43,384.84 606.82,386.36 607.22,387.87 607.61,389.38 608.00,390.90 608.38,392.41 608.77,393.93 609.15,395.44 609.53,396.96 609.90,398.47 610.27,399.99 610.65,401.50 611.01,403.02 611.38,404.54 611.74,406.06 612.10,407.58 612.46,409.09 612.82,410.61 613.17,412.13 613.52,413.65 613.87,415.17 614.22,416.69 614.56,418.21 614.90,419.74 615.24,421.26 615.58,422.78 615.91,424.30 616.25,425.82 616.58,427.35 616.91,428.87 617.23,430.39 617.56,431.92 617.88,433.44 618.20,434.97 618.52,436.49 618.83,438.02 619.15,439.54 619.46,441.07 619.77,442.59 620.08,444.12 620.38,445.65 620.69,447.18 620.99,448.70 621.29,450.23 621.59,451.76 621.89,453.29 622.18,454.82 622.47,456.34 622.76,457.87 623.05,459.40 623.34,460.93 623.63,462.46 623.91,463.99 624.20,465.52 624.48,467.06 624.76,468.59 625.03,470.12 625.31,471.65 625.59,473.18 625.86,474.71 626.13,476.25 626.40,477.78 626.67,479.31 626.94,480.85 627.20,482.38 627.47,483.91 627.73,485.45 627.99,486.98 628.25,488.51 628.51,490.05 628.77,491.58 629.02,493.12 629.28,494.65 629.53,496.19 629.79,497.73 630.04,499.26 630.29,500.80 630.54,502.33 630.78,503.87 631.03,505.41 631.28,506.94 631.52,508.48 631.76,510.02 632.00,511.55 632.25,513.09 632.49,514.63 632.73,516.17 632.96,517.71 633.20,519.24 633.44,520.78 633.67,522.32 633.91,523.86 634.14,525.40 634.37,526.94 634.60,528.48 634.84,530.02 635.07,531.56 635.30,533.09 635.52,534.63 635.75,536.17 635.98,537.71 636.21,539.25 636.43,540.79 636.66,542.33 636.88,543.88 637.11,545.42 637.33,546.96 637.55,548.50 637.77,550.04 637.99,551.58 638.22,553.12 638.44,554.66 638.65,556.20 638.87,557.74 639.09,559.29 639.31,560.83 639.53,562.37 639.74,563.91 639.96,565.45 640.17,567.00 640.39,568.54 640.60,570.08 640.81,571.62 641.03,573.17 641.24,574.71 641.45,576.25 641.66,577.79 641.87,579.34 642.08,580.88 642.29,582.42 642.49,583.97 642.70,585.51 642.91,587.05 643.12,588.60 643.32,590.14 643.53,591.69 643.73,593.23 643.93,594.77 644.14,596.32 644.34,597.86 644.54,599.41 644.75,600.95 644.95,602.50 645.15,604.04 645.35,605.58 645.55,607.13 645.75,608.67 645.94,610.22 646.14,611.76 646.34,613.31 646.54,614.86 646.73,616.40 646.93,617.95 647.12,619.49 647.32,621.04 647.51,622.58 647.71,624.13 647.90,625.68 648.09,627.22 648.28,628.77 648.48,630.31 648.67,631.86 648.86,633.41 649.05,634.95 649.24,636.50 649.43,638.05 649.61,639.59 649.80,641.14 649.99,642.69 650.18,644.23 650.36,645.78 650.55,647.33 650.74,648.88 650.92,650.42 651.11,651.97 651.29,653.52 651.47,655.07 651.66,656.61 651.84,658.16 652.02,659.71 652.20,661.26 652.39,662.81 652.57,664.35 652.75,665.90 652.93,667.45 653.11,669.00 653.29,670.55 653.47,672.09 653.64,673.64 653.82,675.19 654.00,676.74 654.18,678.29 654.35,679.84 654.53,681.39 654.71,682.94 654.88,684.49 655.06,686.03 655.23,687.58 655.41,689.13 655.58,690.68 655.75,692.23 655.93,693.78 656.10,695.33 656.27,696.88 656.44,698.43 656.62,699.98 656.79,701.53 656.96,703.08 657.13,704.63 657.30,706.18 657.47,707.73 657.64,709.28 657.81,710.83 657.97,712.38 658.14,713.93 658.31,715.48 658.48,717.03 658.65,718.58 658.81,720.13 658.98,721.68 659.15,723.23 659.31,724.78 659.48,726.33 659.64,727.88 659.81,729.43 659.97,730.98 660.14,732.53 660.30,734.09 660.46,735.64 660.63,737.19 660.79,738.74 660.95,740.29 661.12,741.84 661.28,743.39 661.44,744.94 661.60,746.49 661.76,748.05 661.92,749.60 662.08,751.15 662.24,752.70 662.40,754.25 662.56,755.80 662.72,757.35 662.88,758.91 663.04,760.46 663.20,762.01 663.36,763.56 663.52,765.11 663.68,766.66 663.83,768.22 663.99,769.77 664.15,771.32 664.31,772.87 664.46,774.42 664.62,775.98 664.78,777.53 664.93,779.08 665.09,780.63 665.24,782.18 665.40,783.74 665.55,785.29 665.71,786.84 665.86,788.39 666.02,789.94 666.17,791.50 666.33,793.05 666.48,794.60 666.63,796.15 666.79,797.71 666.94,799.26 667.09,800.81 667.25,802.36 667.40,803.92 667.55,805.47 667.70,807.02 667.86,808.57 668.01,810.13 668.16,811.68 668.31,813.23 668.46,814.78 668.61,816.34 668.76,817.89 668.92,819.44 669.07,820.99 669.22,822.55 669.37,824.10 669.52,825.65 669.67,827.21 669.82,828.76 669.97,830.31 670.12,831.86 670.27,833.42 670.42,834.97 670.57,836.52 670.72,838.07 670.87,839.63 671.01,841.18 671.16,842.73 671.31,844.29 671.46,845.84 671.61,847.39 671.76,848.94 671.91,850.50 672.06,852.05 672.20,853.60 672.35,855.16 672.50,856.71 672.65,858.26 672.80,859.81 672.94,861.37 673.09,862.92 673.24,864.47 673.39,866.03 673.53,867.58 673.68,869.13 673.83,870.69 673.98,872.24 674.12,873.79 674.27,875.34 674.42,876.90 674.57,878.45 674.71,880.00 674.86,881.56 675.01,883.11 675.15,884.66 675.30,886.21 675.45,887.77 675.59,889.32 675.74,890.87 675.89,892.43 676.03,893.98 676.18,895.53 676.33,897.08 676.47,898.64 676.62,900.19 676.77,901.74 676.91,903.29 677.06,904.85 677.21,906.40 677.36,907.95 677.50,909.51 677.65,911.06 677.80,912.61 677.94,914.16 678.09,915.72 678.24,917.27 678.38,918.82 678.53,920.37 678.68,921.93 678.82,923.48 678.97,925.03 679.12,926.58 679.26,928.14 679.41,929.69 679.56,931.24 679.71,932.79 679.85,934.34 680.00,935.90 680.15,937.45 680.30,939.00 680.44,940.55 680.59,942.11 680.74,943.66 680.89,945.21 681.03,946.76 681.18,948.31 681.33,949.87 681.48,951.42 681.63,952.97 681.77,954.52 681.92,956.07 682.07,957.63 682.22,959.18 682.37,960.73 682.52,962.28 682.67,963.83 682.82,965.38 682.96,966.94 683.11,968.49 683.26,970.04 683.41,971.59 683.56,973.14 683.71,974.69 683.86,976.25 684.01,977.80 684.16,979.35 684.31,980.90 684.46,982.45 684.61,984.00 684.76,985.55 684.91,987.10 685.07,988.65 685.22,990.21 685.37,991.76 685.52,993.31 685.67,994.86 685.82,996.41 685.98,997.96 686.13,999.51 686.28,1001.06 686.43,1002.61 686.59,1004.16 686.74,1005.71 686.89,1007.26 687.04,1008.81 687.20,1010.36 687.35,1011.91 687.51,1013.46 687.66,1015.01 687.82,1016.56 687.97,1018.11 688.13,1019.66 688.28,1021.21 688.44,1022.76 688.59,1024.31 688.75,1025.86 688.91,1027.41 689.06,1028.96 689.22,1030.51 689.38,1032.06 689.54,1033.61 689.69,1035.16 689.85,1036.71 690.01,1038.26 690.17,1039.81 690.33,1041.36 690.49,1042.91 690.65,1044.46 690.81,1046.01 690.98,1047.55 691.14,1049.10 691.30,1050.65 691.46,1052.20 691.63,1053.75 691.79,1055.30 691.95,1056.85 692.12,1058.40 692.28,1059.95 692.45,1061.49 692.62,1063.04 692.78,1064.59 692.95,1066.14 693.12,1067.69 693.29,1069.24 693.45,1070.78 693.62,1072.33 693.79,1073.88 693.96,1075.43 694.14,1076.98 694.31,1078.52 694.48,1080.07 694.65,1081.62 694.83,1083.17 695.00,1084.72 695.17,1086.26 695.35,1087.81 695.53,1089.36 695.70,1090.91 695.88,1092.45 696.06,1094.00 696.24,1095.55 696.42,1097.10 696.60,1098.64 696.78,1100.19 696.96,1101.74 697.14,1103.28 697.32,1104.83 697.51,1106.38 697.69,1107.92 697.88,1109.47 698.06,1111.02 698.25,1112.56 698.43,1114.11 698.62,1115.66 698.81,1117.20 699.00,1118.75 699.19,1120.30 699.38,1121.84 699.58,1123.39 699.77,1124.94 699.96,1126.48 700.16,1128.03 700.35,1129.57 700.55,1131.12 700.75,1132.67 700.94,1134.21 701.14,1135.76 701.34,1137.30 701.54,1138.85 701.74,1140.40 701.95,1141.94 702.15,1143.49 702.36,1145.03 702.56,1146.58 702.77,1148.12 702.97,1149.67 703.18,1151.21 703.39,1152.76 703.60,1154.30 703.81,1155.85 704.02,1157.39 704.24,1158.94 704.45,1160.48 704.67,1162.03 704.88,1163.57 705.10,1165.12 705.32,1166.66 705.54,1168.21 705.76,1169.75 705.98,1171.30 706.20,1172.84 706.43,1174.38 706.65,1175.93 706.88,1177.47 707.10,1179.02 707.33,1180.56 707.56,1182.10 707.79,1183.65 708.02,1185.19 708.26,1186.74 708.49,1188.28 708.72,1189.82 708.96,1191.37 709.20,1192.91 709.44,1194.45 709.68,1196.00 709.92,1197.54 710.17,1199.08 710.43,1200.62 710.70,1202.16 710.98,1203.70 711.28,1205.23 711.59,1206.76 711.91,1208.29 712.26,1209.82 712.62,1211.34 713.01,1212.86 713.42,1214.37 713.85,1215.88 714.32,1217.38 714.81,1218.88 715.33,1220.37 715.89,1221.86 716.48,1223.33 717.11,1224.81 717.78,1226.27 718.48,1227.73 719.23,1229.18 720.02,1230.62 720.86,1232.05 721.74,1233.41 722.67,1234.64 723.65,1235.67 724.67,1236.42 725.74,1236.84 726.86,1236.84 728.01,1236.45 729.17,1235.71 730.30,1234.71 731.38,1233.49 732.38,1232.14 733.27,1230.71 734.04,1229.24 734.71,1227.74 735.30,1226.22 735.83,1224.68 736.32,1223.13 736.77,1221.58 737.22,1220.03 737.67,1218.49 738.11,1216.95 738.54,1215.41 738.97,1213.88 739.40,1212.35 739.82,1210.83 740.23,1209.31 740.65,1207.79 741.06,1206.27 741.46,1204.76 741.86,1203.25 742.26,1201.74 742.65,1200.24 743.04,1198.74 743.42,1197.23 743.80,1195.73 744.18,1194.24 744.56,1192.74 744.93,1191.24 745.30,1189.75 745.66,1188.25 746.02,1186.76 746.38,1185.26 746.74,1183.77 747.09,1182.28 747.44,1180.78 747.78,1179.29 748.13,1177.79 748.47,1176.30 748.81,1174.80 749.14,1173.30 749.48,1171.80 749.81,1170.30 750.14,1168.80 750.47,1167.29 750.79,1165.78 751.11,1164.28 751.43,1162.77 751.75,1161.26 752.07,1159.74 752.38,1158.23 752.69,1156.71 753.00,1155.20 753.31,1153.68 753.62,1152.16 753.92,1150.64 754.23,1149.11 754.53,1147.59 754.83,1146.07 755.12,1144.54 755.42,1143.01 755.71,1141.48 756.01,1139.95 756.30,1138.42 756.59,1136.89 756.87,1135.36 757.16,1133.83 757.45,1132.29 757.73,1130.76 758.01,1129.22 758.29,1127.68 758.57,1126.14 758.85,1124.61 759.13,1123.07 759.40,1121.53 759.68,1119.99 759.95,1118.44 760.22,1116.90 760.50,1115.36 760.77,1113.82 761.04,1112.27 761.30,1110.73 761.57,1109.18 761.84,1107.64 762.10,1106.09 762.37,1104.55 762.63,1103.00 762.90,1101.46 763.16,1099.91 763.42,1098.36 763.68,1096.82 763.95,1095.27 764.21,1093.72 764.47,1092.17 764.73,1090.63 764.99,1089.08 765.24,1087.53 765.50,1085.98 765.76,1084.44 766.02,1082.89 766.28,1081.34 766.53,1079.80 766.79,1078.25 767.05,1076.70 767.30,1075.16 767.56,1073.61 767.82,1072.06 768.07,1070.52 768.33,1068.97 768.59,1067.43 768.84,1065.88 769.10,1064.34 769.35,1062.79 769.61,1061.25 769.86,1059.70 770.12,1058.16 770.37,1056.61 770.63,1055.07 770.88,1053.53 771.14,1051.98 771.39,1050.44 771.65,1048.90 771.90,1047.35 772.16,1045.81 772.41,1044.27 772.67,1042.73 772.92,1041.18 773.18,1039.64 773.43,1038.10 773.69,1036.56 773.94,1035.02 774.20,1033.48 774.45,1031.94 774.70,1030.39 774.96,1028.85 775.21,1027.31 775.47,1025.77 775.72,1024.23 775.98,1022.69 776.23,1021.15 776.49,1019.61 776.74,1018.07 777.00,1016.53 777.26,1014.99 777.51,1013.45 777.77,1011.92 778.02,1010.38 778.28,1008.84 778.53,1007.30 778.79,1005.76 779.05,1004.22 779.30,1002.68 779.56,1001.15 779.82,999.61 780.07,998.07 780.33,996.53 780.59,995.00 780.85,993.46 781.10,991.92 781.36,990.39 781.62,988.85 781.88,987.31 782.14,985.78 782.40,984.24 782.66,982.70 782.91,981.17 783.17,979.63 783.43,978.10 783.69,976.56 783.96,975.02 784.22,973.49 784.48,971.95 784.74,970.42 785.00,968.88 785.26,967.35 785.53,965.81 785.79,964.28 786.05,962.75 786.31,961.21 786.58,959.68 786.84,958.14 787.11,956.61 787.37,955.08 787.64,953.54 787.90,952.01 788.17,950.48 788.44,948.94 788.70,947.41 788.97,945.88 789.24,944.34 789.51,942.81 789.77,941.28 790.04,939.74 790.31,938.21 790.58,936.68 790.85,935.15 791.13,933.62 791.40,932.08 791.67,930.55 791.94,929.02 792.21,927.49 792.49,925.96 792.76,924.42 793.04,922.89 793.31,921.36 793.59,919.83 793.86,918.30 794.14,916.77 794.42,915.24 794.70,913.71 794.97,912.18 795.25,910.65 795.53,909.11 795.81,907.58 796.09,906.05 796.38,904.52 796.66,902.99 796.94,901.46 797.22,899.93 797.51,898.40 797.79,896.87 798.08,895.34 798.36,893.81 798.65,892.29 798.94,890.76 799.23,889.23 799.52,887.70 799.80,886.17 800.09,884.64 800.39,883.11 800.68,881.58 800.97,880.05 801.26,878.52 801.56,876.99 801.85,875.47 802.15,873.94 802.44,872.41 802.74,870.88 803.04,869.35 803.34,867.82 803.64,866.30 803.94,864.77 804.24,863.24 804.54,861.71 804.84,860.18 805.14,858.66 805.45,857.13 805.75,855.60 806.06,854.07 806.37,852.55 806.68,851.02 806.99,849.49 807.30,847.97 807.61,846.44 807.92,844.92 808.23,843.39 808.55,841.86 808.86,840.34 809.18,838.81 809.49,837.29 809.81,835.76 810.13,834.24 810.45,832.71 810.77,831.19 811.10,829.66 811.42,828.14 811.74,826.61 812.07,825.09 812.40,823.57 812.73,822.04 813.05,820.52 813.39,819.00 813.72,817.47 814.05,815.95 814.38,814.43 814.72,812.91 815.06,811.39 815.39,809.86 815.73,808.34 816.07,806.82 816.41,805.30 816.76,803.78 817.10,802.26 817.45,800.74 817.79,799.22 818.14,797.70 818.49,796.18 818.84,794.66 819.19,793.14 819.55,791.63 819.90,790.11 820.26,788.59 820.61,787.07 820.97,785.55 821.33,784.04 821.70,782.52 822.06,781.00 822.42,779.49 822.79,777.97 823.16,776.46 823.53,774.94 823.90,773.43 824.27,771.91 824.64,770.40 825.02,768.89 825.40,767.37 825.77,765.86 826.15,764.35 826.53,762.84 826.92,761.32 827.30,759.81 827.69,758.30 828.08,756.79 828.47,755.28 828.86,753.77 829.25,752.26 829.65,750.75 830.04,749.24 830.44,747.74 830.84,746.23 831.24,744.72 831.64,743.21 832.05,741.71 832.45,740.20 832.86,738.69 833.27,737.19 833.68,735.68 834.10,734.18 834.51,732.67 834.93,731.17 835.35,729.67 835.77,728.16 836.19,726.66 836.62,725.16 837.04,723.66 837.47,722.16 837.90,720.66 838.34,719.16 838.77,717.66 839.21,716.16 839.64,714.66 840.08,713.16 840.52,711.66 840.97,710.17 841.41,708.67 841.86,707.17 842.31,705.68 842.76,704.18 843.22,702.69 843.67,701.19 844.13,699.70 844.59,698.21 845.05,696.71 845.52,695.22 845.98,693.73 846.45,692.24 846.92,690.75 847.39,689.26 847.87,687.77 848.35,686.28 848.82,684.79 849.31,683.31 849.79,681.82 850.27,680.33 850.76,678.85 851.25,677.36 851.74,675.88 852.24,674.39 852.74,672.91 853.24,671.43 853.74,669.95 854.24,668.46 854.75,666.98 855.26,665.51 855.77,664.03 856.28,662.55 856.80,661.07 857.32,659.60 857.84,658.12 858.37,656.65 858.89,655.18 859.42,653.71 859.96,652.24 860.49,650.77 861.03,649.30 861.57,647.83 862.11,646.37 862.66,644.90 863.21,643.44 863.76,641.98 864.32,640.51 864.88,639.06 865.44,637.60 866.00,636.14 866.57,634.69 867.14,633.23 867.72,631.78 868.30,630.33 868.88,628.88 869.46,627.43 870.05,625.98 870.64,624.54 871.23,623.10 871.83,621.65 872.43,620.21 873.03,618.78 873.64,617.34 874.25,615.91 874.86,614.47 875.48,613.04 876.10,611.61 876.72,610.18 877.35,608.76 877.98,607.33 878.62,605.91 879.26,604.49 879.90,603.07 880.55,601.66 881.20,600.24 881.85,598.83 882.51,597.42 883.17,596.01 883.84,594.61 884.51,593.21 885.18,591.80 885.86,590.40 886.54,589.01 887.22,587.61 887.91,586.22 888.60,584.83 889.30,583.44 890.00,582.06 890.71,580.67 891.42,579.29 892.13,577.92 892.85,576.54 893.57,575.17 894.30,573.80 895.03,572.43 895.77,571.06 896.51,569.70 897.25,568.34 898.00,566.98 898.75,565.62 899.51,564.27 900.27,562.92 901.04,561.58 901.81,560.23 902.58,558.89 903.36,557.55 904.15,556.22 904.94,554.88 905.73,553.55 906.53,552.23 907.34,550.90 908.14,549.58 908.96,548.26 909.78,546.95 910.60,545.63 911.43,544.33 912.26,543.02 913.10,541.72 913.94,540.42 914.79,539.12 915.64,537.83 916.50,536.54 917.36,535.25 918.23,533.97 919.10,532.69 919.98,531.41 920.86,530.14 921.75,528.87 922.65,527.60 923.55,526.34 924.45,525.08 925.36,523.82 926.28,522.57 927.20,521.32 928.12,520.07 929.06,518.83 929.99,517.59 930.94,516.36 931.89,515.13 932.84,513.90 933.80,512.68 934.76,511.46 935.73,510.24 936.71,509.03 937.69,507.82 938.68,506.61 939.67,505.41 940.67,504.22 941.68,503.02 942.69,501.83 943.70,500.65 944.72,499.47 945.75,498.29 946.78,497.12 947.82,495.95 948.86,494.79 949.91,493.62 950.96,492.47 952.02,491.32 953.08,490.17 954.15,489.02 955.22,487.88 956.30,486.75 957.38,485.62 958.47,484.49 959.57,483.37 960.66,482.25 961.77,481.14 962.87,480.03 963.99,478.92 965.11,477.82 966.23,476.73 967.35,475.64 968.49,474.55 969.62,473.47 970.76,472.39 971.91,471.32 973.06,470.25 974.22,469.19 975.37,468.13 976.54,467.08 977.71,466.03 978.88,464.98 980.06,463.94 981.24,462.91 982.42,461.88 983.61,460.85 984.81,459.83 986.01,458.82 987.21,457.81 988.42,456.80 989.63,455.80 990.84,454.81 992.06,453.82 993.28,452.83 994.51,451.85 995.74,450.88 996.98,449.91 998.22,448.95 999.46,447.99 1000.70,447.03 1001.96,446.09 1003.21,445.14 1004.47,444.20 1005.73,443.27 1006.99,442.34 1008.26,441.42 1009.53,440.51 1010.81,439.60 1012.09,438.69 1013.37,437.79 1014.66,436.90 1015.95,436.01 1017.24,435.12 1018.54,434.25 1019.84,433.37 1021.14,432.51 1022.45,431.65 1023.76,430.79 1025.07,429.94 1026.39,429.10 1027.70,428.26 1029.03,427.43 1030.35,426.60 1031.68,425.78 1033.01,424.97 1034.35,424.16 1035.68,423.36 1037.02,422.56 1038.37,421.77 1039.71,420.99 1041.06,420.21 1042.41,419.44 1043.77,418.67 1045.12,417.91 1046.48,417.16 1047.84,416.41 1049.21,415.66 1050.58,414.93 1051.95,414.20 1053.32,413.47 1054.69,412.75 1056.07,412.04 1057.45,411.33 1058.83,410.63 1060.22,409.93 1061.61,409.24 1063.00,408.56 1064.39,407.88 1065.79,407.20 1067.18,406.53 1068.58,405.87 1069.98,405.21 1071.39,404.56 1072.80,403.91 1074.20,403.27 1075.62,402.63 1077.03,401.99 1078.44,401.37 1079.86,400.74 1081.28,400.13 1082.70,399.51 1084.13,398.91 1085.56,398.30 1086.98,397.71 1088.41,397.11 1089.85,396.52 1091.28,395.94 1092.72,395.36 1094.16,394.79 1095.60,394.22 1097.04,393.65 1098.48,393.09 1099.93,392.54 1101.38,391.98 1102.83,391.44 1104.28,390.89 1105.73,390.35 1107.19,389.82 1108.65,389.29 1110.10,388.76 1111.57,388.24 1113.03,387.72 1114.49,387.21 1115.96,386.70 1117.42,386.19 1118.89,385.69 1120.36,385.19 1121.84,384.70 1123.31,384.21 1124.78,383.72 1126.26,383.24 1127.74,382.76 1129.22,382.28 1130.70,381.81 1132.18,381.34 1133.67,380.88 1135.15,380.42 1136.64,379.96 1138.13,379.51 1139.62,379.06 1141.11,378.61 1142.60,378.16 1144.09,377.72 1145.59,377.29 1147.08,376.85 1148.58,376.42 1150.08,375.99 1151.58,375.57 1153.08,375.14 1154.58,374.72 1156.08,374.31 1157.58,373.89 1159.09,373.48 1160.59,373.08 1162.10,372.67 1163.61,372.27 1165.12,371.87 1166.63,371.47 1168.14,371.08 1169.65,370.69 1171.16,370.30 1172.67,369.91 1174.19,369.53 1175.70,369.15 1177.22,368.77 1178.73,368.39 1180.25,368.01 1181.77,367.64 1183.29,367.27 1184.81,366.90 1186.33,366.54 1187.85,366.17 1189.37,365.81 1190.89,365.45 1192.41,365.09 1193.94,364.74 1195.46,364.38 1196.98,364.03 1198.51,363.68 1200.03,363.33 1201.56,362.99 1203.08,362.64 1204.61,362.30 1206.14,361.96 1207.66,361.61 1209.19,361.28 1210.72,360.94 1212.25,360.60 1213.77,360.27 1215.30,359.94 1216.83,359.60 1218.36,359.27 1219.89,358.94 1221.42,358.62 1222.95,358.29 1224.48,357.96 1226.01,357.64 1227.54,357.32 1229.07,356.99 1230.60,356.67 1232.13,356.35 1233.66,356.03 1235.19,355.72 1236.72,355.40 1238.25,355.08 1239.78,354.77 1241.32,354.46 1242.85,354.14 1244.38,353.83 1245.91,353.52 1247.44,353.21 1248.97,352.91 1250.51,352.60 1252.04,352.29 1253.57,351.99 1255.10,351.68 1256.64,351.38 1258.17,351.08 1259.70,350.78 1261.24,350.48 1262.77,350.18 1264.30,349.89 1265.84,349.59 1267.37,349.29 1268.90,349.00 1270.44,348.71 1271.97,348.42 1273.50,348.12 1275.04,347.83 1276.57,347.55 1278.11,347.26 1279.64,346.97 1281.18,346.68 1282.71,346.40 1284.25,346.12 1285.78,345.83 1287.32,345.55 1288.85,345.27 1290.39,344.99 1291.92,344.71 1293.46,344.43 1295.00,344.16 1296.53,343.88 1298.07,343.61 1299.60,343.33 1301.14,343.06 1302.68,342.79 1304.21,342.52 1305.75,342.25 1307.29,341.98 1308.82,341.71 1310.36,341.44 1311.90,341.18 1313.44,340.91 1314.97,340.65 1316.51,340.39 1318.05,340.12 1319.59,339.86 1321.13,339.60 1322.66,339.34 1324.20,339.08 1325.74,338.83 1327.28,338.57 1328.82,338.31 1330.36,338.06 1331.89,337.80 1333.43,337.55 1334.97,337.30 1336.51,337.05 1338.05,336.80 1339.59,336.55 1341.13,336.30 1342.67,336.05 1344.21,335.81 1345.75,335.56 1347.29,335.32 1348.83,335.07 1350.37,334.83 1351.91,334.59 1353.45,334.35 1354.99,334.10 1356.53,333.87 1358.07,333.63 1359.61,333.39 1361.15,333.15 1362.69,332.92 1364.24,332.68 1365.78,332.45 1367.32,332.21 1368.86,331.98 1370.40,331.75 1371.94,331.52 1373.48,331.29 1375.03,331.06 1376.57,330.83 1378.11,330.60 1379.65,330.37 1381.20,330.15 1382.74,329.92 1384.28,329.70 1385.82,329.47 1387.37,329.25 1388.91,329.03 1390.45,328.81 1391.99,328.59 1393.54,328.37 1395.08,328.15 1396.62,327.93 1398.17,327.71 1399.71,327.50 1401.25,327.28 1402.80,327.07 1404.34,326.85 1405.89,326.64 1407.43,326.43 1408.97,326.21 1410.52,326.00 1412.06,325.79 1413.61,325.58 1415.15,325.37 1416.69,325.17 1418.24,324.96 1419.78,324.75 1421.33,324.55 1422.87,324.34 1424.42,324.14 1425.96,323.93 1427.51,323.73 1429.05,323.53 1430.60,323.32 1432.15,323.12 1433.69,322.92 1435.24,322.72 1436.78,322.53 1438.33,322.33 1439.87,322.13 1441.42,321.93 1442.97,321.74 1444.51,321.54 1446.06,321.35 1447.60,321.15 1449.15,320.96 1450.70,320.77 1452.24,320.58 1453.79,320.39 1455.34,320.20 1456.88,320.01 1458.43,319.82 1459.98,319.63 1461.52,319.44 1463.07,319.25 1464.62,319.07 1466.17,318.88 1467.71,318.70 1469.26,318.51 1470.81,318.33 1472.36,318.14 1473.90,317.96 1475.45,317.78 1477.00,317.60 1478.55,317.42 1480.10,317.24 1481.64,317.06 1483.19,316.88 1484.74,316.70 1486.29,316.52 1487.84,316.35 1489.38,316.17 1490.93,315.99 1492.48,315.82 1494.03,315.64 1495.58,315.47 1497.13,315.30 1498.68,315.12 1500.23,314.95 1501.77,314.78 1503.32,314.61 1504.87,314.44 1506.42,314.27 1507.97,314.10 1509.52,313.93 1511.07,313.76 1512.62,313.59 1514.17,313.43 1515.72,313.26 1517.27,313.09 1518.82,312.93 1520.37,312.76 1521.92,312.60 1523.47,312.43 1525.02,312.27 1526.57,312.11 1528.12,311.94 1529.67,311.78 1531.22,311.62 1532.77,311.46 1534.32,311.30 1535.87,311.14 1537.42,310.98 1538.97,310.82 1540.52,310.66 1542.07,310.51 1543.62,310.35 1545.17,310.19 1546.73,310.04 1548.28,309.88 1549.83,309.72 1551.38,309.57 1552.93,309.41 1554.48,309.26 1556.03,309.11 1557.58,308.95 1559.13,308.80 1560.69,308.65 1562.24,308.50 1563.79,308.35 1565.34,308.20 1566.89,308.05 1568.44,307.90 1569.99,307.75 1571.55,307.60 1573.10,307.45 1574.65,307.30 1576.20,307.15 1577.75,307.01 1579.31,306.86 1580.86,306.71 1582.41,306.57 1583.96,306.42 1585.51,306.28 1587.07,306.13 1588.62,305.99 1590.17,305.84 1591.72,305.70 1593.28,305.56 1594.83,305.41 1596.38,305.27 1597.93,305.13 1599.49,304.99 1601.04,304.85 1602.59,304.71 1604.15,304.57 1605.70,304.42 1607.25,304.29 1608.80,304.15 1610.36,304.01 1611.91,303.87 1613.46,303.73 1615.02,303.59 1616.57,303.45 1618.12,303.32 1619.67,303.18 1621.23,303.04 1622.78,302.91 1624.33,302.77 1625.89,302.64 1627.44,302.50 1628.99,302.37 1630.55,302.23 1632.10,302.10 1633.66,301.96 1635.21,301.83 1636.76,301.70 1638.32,301.56 1639.87,301.43 1641.42,301.30 1642.98,301.17 1644.53,301.03 1646.08,300.90 1647.64,300.77 1649.19,300.64 1650.75,300.51 1652.30,300.38 1653.85,300.25 1655.41,300.12 1656.96,299.99 1658.52,299.86 1660.07,299.73 1661.62,299.60 1663.18,299.47 1664.73,299.35 1666.29,299.22 1667.84,299.09 1669.40,298.96 1670.95,298.83 1672.50,298.71 1674.06,298.58 1675.61,298.45 1677.17,298.33 1678.72,298.20 1680.28,298.08 1681.83,297.95 1683.38,297.82 1684.94,297.70 1686.49,297.57 1688.05,297.45 1689.60,297.32 1691.16,297.20 1692.71,297.08 1694.27,296.95 1695.82,296.83 1697.38,296.70 1698.93,296.58 1700.48,296.46 1702.04,296.33 1703.59,296.21 1705.15,296.09 1706.70,295.97 1708.26,295.84 1709.81,295.72 1711.37,295.60 1712.92,295.48 1714.48,295.35 1716.03,295.23 1717.59,295.11 1719.14,294.99 1720.70,294.87 1722.25,294.75 1723.81,294.63 1725.36,294.51 1726.92,294.38 1728.47,294.26 1730.03,294.14 1731.58,294.02 1733.14,293.90 1734.69,293.78 1736.25,293.66 1737.80,293.54 1739.36,293.42 1740.91,293.30 1742.47,293.18 1744.02,293.06 1745.58,292.94 1747.13,292.83 1748.69,292.71 1750.24,292.59 1751.80,292.47 1753.35,292.35 1754.91,292.23 1756.46,292.11 1758.02,291.99 1759.57,291.87 1761.13,291.75 1762.68,291.64 1764.24,291.52 1765.79,291.40 1767.35,291.28 1768.90,291.16 1770.46,291.04 1772.01,290.93 1773.57,290.81 1775.12,290.69 1776.68,290.57 1778.23,290.45 1779.79,290.33 1781.34,290.22 1782.90,290.10 1784.45,289.98 1786.01,289.86 1787.56,289.74 1789.12,289.63 1790.67,289.51 1792.23,289.39 1793.78,289.27 1795.34,289.15 1796.89,289.04 1798.45,288.92 1800.00,288.80 1801.56,288.68 1803.11,288.56 1804.67,288.44 1806.22,288.33 1807.78,288.21 1809.33,288.09 1810.89,287.97 1812.44,287.85 1814.00,287.73 1815.55,287.62 1817.11,287.50 1818.66,287.38 1820.22,287.26 1821.77,287.14 1823.33,287.02 1824.88,286.90 1826.44,286.78 1827.99,286.67 1829.55,286.55 1831.10,286.43 1832.66,286.31 1834.21,286.19 1835.77,286.07 1837.32,285.95 1838.87,285.83 1840.43,285.71 1841.98,285.59 1843.54,285.47 1845.09,285.35 1846.65,285.23 1848.20,285.11 1849.76,284.99 1851.31,284.87 1852.87,284.75 1854.42,284.63 1855.97,284.51 1857.53,284.39 1859.08,284.27 1860.64,284.14 1862.19,284.02 1863.75,283.90 1865.30,283.78 1866.86,283.66 1868.41,283.54 1869.96,283.41 1871.52,283.29 1873.07,283.17 1874.63,283.05 1876.18,282.92 1877.73,282.80 1879.29,282.68 1880.84,282.55 1882.40,282.43"/>
<polyline fill="none" stroke="#1a6fde" stroke-width="5.0" stroke-linejoin="round" stroke-linecap="butt" points="217.48,158.18 219.09,158.26 220.70,158.33 222.31,158.40 223.92,158.47 225.53,158.53 227.13,158.60 228.74,158.67 230.34,158.73 231.94,158.79 233.54,158.85 235.14,158.91 236.73,158.97 238.33,159.03 239.92,159.09 241.52,159.14 243.11,159.20 244.70,159.26 246.29,159.31 247.87,159.36 249.46,159.42 251.05,159.47 252.63,159.52 254.21,159.58 255.79,159.63 257.37,159.68 258.95,159.73 260.53,159.79 262.11,159.84 263.69,159.89 265.26,159.94 266.84,160.00 268.41,160.05 269.98,160.10 271.55,160.16 273.12,160.21 274.69,160.27 276.26,160.32 277.83,160.38 279.40,160.44 280.96,160.50 282.53,160.55 284.09,160.62 285.66,160.68 287.22,160.74 288.78,160.80 290.34,160.87 291.90,160.93 293.46,161.00 295.02,161.07 296.58,161.14 298.14,161.21 299.70,161.29 301.26,161.36 302.81,161.44 304.37,161.52 305.92,161.60 307.48,161.68 309.03,161.77 310.59,161.86 312.14,161.95 313.70,162.04 315.25,162.13 316.80,162.23 318.35,162.33 319.91,162.43 321.46,162.53 323.01,162.64 324.56,162.75 326.11,162.86 327.66,162.98 329.21,163.10 330.76,163.22 332.31,163.34 333.86,163.47 335.41,163.60 336.96,163.73 338.51,163.87 340.06,164.01 341.61,164.15 343.16,164.30 344.71,164.45 346.26,164.61 347.81,164.77 349.36,164.93 350.91,165.09 352.46,165.26 354.01,165.44 355.56,165.62 357.11,165.80 358.66,165.99 360.21,166.18 361.76,166.37 363.31,166.57 364.86,166.77 366.41,166.98 367.96,167.20 369.52,167.41 371.07,167.64 372.62,167.86 374.17,168.09 375.73,168.33 377.28,168.57 378.84,168.82 380.39,169.07 381.95,169.33 383.50,169.59 385.06,169.86 386.61,170.13 388.17,170.41 389.73,170.70 391.29,170.99 392.85,171.28 394.41,171.58 395.97,171.89 397.53,172.20 399.09,172.52 400.65,172.85 402.22,173.18 403.78,173.51 405.34,173.86 406.91,174.21 408.48,174.56 410.04,174.92 411.61,175.29 413.17,175.67 414.74,176.05 416.31,176.44 417.87,176.83 419.44,177.24 421.00,177.65 422.56,178.06 424.12,178.49 425.68,178.92 427.24,179.36 428.79,179.80 430.35,180.26 431.90,180.72 433.45,181.19 434.99,181.66 436.54,182.15 438.08,182.64 439.61,183.14 441.15,183.65 442.68,184.17 444.21,184.69 445.73,185.23 447.25,185.77 448.76,186.32 450.27,186.88 451.78,187.45 453.28,188.03 454.77,188.62 456.26,189.21 457.75,189.82 459.23,190.43 460.70,191.05 462.17,191.69 463.63,192.33 465.08,192.98 466.53,193.64 467.97,194.31 469.41,194.99 470.84,195.68 472.26,196.38 473.67,197.09 475.08,197.82 476.48,198.55 477.87,199.29 479.25,200.04 480.62,200.80 481.99,201.58 483.34,202.36 484.69,203.15 486.03,203.96 487.36,204.78 488.68,205.60 489.99,206.44 491.29,207.29 492.58,208.15 493.86,209.02 495.13,209.91 496.39,210.80 497.64,211.71 498.88,212.62 500.11,213.55 501.34,214.49 502.55,215.44 503.75,216.39 504.94,217.36 506.13,218.34 507.30,219.33 508.47,220.33 509.62,221.34 510.77,222.36 511.91,223.39 513.03,224.43 514.15,225.48 515.26,226.53 516.36,227.60 517.46,228.68 518.54,229.76 519.62,230.86 520.68,231.96 521.74,233.07 522.79,234.20 523.83,235.33 524.86,236.46 525.88,237.61 526.90,238.77 527.90,239.93 528.90,241.10 529.89,242.28 530.88,243.47 531.85,244.67 532.82,245.87 533.77,247.08 534.72,248.30 535.67,249.53 536.60,250.76 537.53,252.00 538.44,253.25 539.36,254.51 540.26,255.77 541.16,257.04 542.04,258.31 542.92,259.60 543.80,260.89 544.67,262.18 545.52,263.48 546.38,264.79 547.22,266.11 548.06,267.43 548.89,268.75 549.71,270.09 550.53,271.43 551.34,272.77 552.14,274.12 552.94,275.48 553.73,276.84 554.51,278.20 555.29,279.57 556.06,280.95 556.82,282.33 557.58,283.72 558.33,285.11 559.07,286.51 559.81,287.91 560.54,289.31 561.27,290.72 561.99,292.14 562.70,293.55 563.41,294.98 564.11,296.40 564.81,297.83 565.50,299.27 566.18,300.71 566.86,302.15 567.53,303.59 568.20,305.04 568.86,306.49 569.52,307.95 570.17,309.41 570.82,310.87 571.46,312.33 572.09,313.80 572.72,315.27 573.35,316.74 573.97,318.22 574.58,319.69 575.19,321.17 575.79,322.65 576.39,324.14 576.99,325.62 577.58,327.11 578.17,328.60 578.75,330.09 579.32,331.59 579.89,333.08 580.46,334.58 581.02,336.08 581.58,337.58 582.14,339.08 582.69,340.58 583.23,342.08 583.78,343.58 584.31,345.09 584.85,346.59 585.38,348.10 585.90,349.60 586.42,351.11 586.94,352.62 587.46,354.13 587.97,355.64 588.47,357.14 588.97,358.66 589.47,360.17 589.97,361.68 590.46,363.19 590.95,364.70 591.43,366.22 591.91,367.73 592.39,369.25 592.86,370.76 593.33,372.28 593.79,373.79 594.25,375.31 594.71,376.83 595.17,378.35 595.62,379.87 596.07,381.39 596.51,382.91 596.95,384.43 597.39,385.95 597.83,387.47 598.26,389.00 598.68,390.52 599.11,392.04 599.53,393.57 599.95,395.09 600.36,396.62 600.77,398.15 601.18,399.67 601.59,401.20 601.99,402.73 602.39,404.26 602.79,405.79 603.18,407.32 603.57,408.85 603.96,410.38 604.34,411.91 604.72,413.44 605.10,414.97 605.48,416.51 605.85,418.04 606.22,419.57 606.59,421.11 606.96,422.64 607.32,424.18 607.68,425.71 608.03,427.25 608.39,428.79 608.74,430.32 609.09,431.86 609.43,433.40 609.78,434.94 610.12,436.48 610.46,438.01 610.79,439.55 611.13,441.09 611.46,442.63 611.79,444.18 612.12,445.72 612.44,447.26 612.76,448.80 613.08,450.34 613.40,451.89 613.71,453.43 614.03,454.97 614.34,456.52 614.65,458.06 614.95,459.61 615.26,461.15 615.56,462.70 615.86,464.24 616.16,465.79 616.46,467.34 616.75,468.88 617.04,470.43 617.33,471.98 617.62,473.53 617.91,475.08 618.19,476.62 618.48,478.17 618.76,479.72 619.04,481.27 619.32,482.82 619.59,484.37 619.87,485.92 620.14,487.47 620.41,489.03 620.68,490.58 620.95,492.13 621.22,493.68 621.48,495.23 621.74,496.78 622.01,498.34 622.27,499.89 622.53,501.44 622.78,503.00 623.04,504.55 623.29,506.10 623.55,507.66 623.80,509.21 624.05,510.77 624.30,512.32 624.55,513.88 624.80,515.43 625.04,516.99 625.29,518.54 625.53,520.10 625.78,521.65 626.02,523.21 626.26,524.77 626.50,526.32 626.74,527.88 626.98,529.44 627.21,530.99 627.45,532.55 627.68,534.11 627.92,535.66 628.15,537.22 628.38,538.78 628.62,540.34 628.85,541.89 629.08,543.45 629.31,545.01 629.54,546.57 629.76,548.13 629.99,549.68 630.22,551.24 630.44,552.80 630.67,554.36 630.90,555.92 631.12,557.48 631.34,559.04 631.57,560.59 631.79,562.15 632.01,563.71 632.24,565.27 632.46,566.83 632.68,568.39 632.90,569.95 633.12,571.51 633.34,573.07 633.55,574.63 633.77,576.19 633.99,577.75 634.21,579.31 634.42,580.87 634.64,582.43 634.85,583.99 635.07,585.55 635.28,587.11 635.50,588.67 635.71,590.23 635.92,591.79 636.13,593.35 636.34,594.91 636.55,596.47 636.76,598.03 636.97,599.59 637.18,601.16 637.39,602.72 637.60,604.28 637.81,605.84 638.02,607.40 638.22,608.96 638.43,610.52 638.63,612.09 638.84,613.65 639.05,615.21 639.25,616.77 639.45,618.33 639.66,619.89 639.86,621.46 640.06,623.02 640.26,624.58 640.47,626.14 640.67,627.71 640.87,629.27 641.07,630.83 641.27,632.39 641.47,633.96 641.66,635.52 641.86,637.08 642.06,638.64 642.26,640.21 642.46,641.77 642.65,643.33 642.85,644.90 643.04,646.46 643.24,648.02 643.43,649.59 643.63,651.15 643.82,652.71 644.02,654.28 644.21,655.84 644.40,657.40 644.59,658.97 644.79,660.53 644.98,662.10 645.17,663.66 645.36,665.22 645.55,666.79 645.74,668.35 645.93,669.92 646.12,671.48 646.31,673.05 646.50,674.61 646.68,676.17 646.87,677.74 647.06,679.30 647.25,680.87 647.43,682.43 647.62,684.00 647.81,685.56 647.99,687.13 648.18,688.69 648.36,690.26 648.55,691.82 648.73,693.39 648.91,694.95 649.10,696.52 649.28,698.08 649.46,699.65 649.65,701.22 649.83,702.78 650.01,704.35 650.19,705.91 650.37,707.48 650.55,709.04 650.74,710.61 650.92,712.17 651.10,713.74 651.28,715.31 651.45,716.87 651.63,718.44 651.81,720.01 651.99,721.57 652.17,723.14 652.35,724.70 652.53,726.27 652.70,727.84 652.88,729.40 653.06,730.97 653.23,732.54 653.41,734.10 653.59,735.67 653.76,737.24 653.94,738.80 654.11,740.37 654.29,741.94 654.46,743.50 654.64,745.07 654.81,746.64 654.98,748.20 655.16,749.77 655.33,751.34 655.51,752.91 655.68,754.47 655.85,756.04 656.02,757.61 656.20,759.18 656.37,760.74 656.54,762.31 656.71,763.88 656.88,765.45 657.06,767.01 657.23,768.58 657.40,770.15 657.57,771.72 657.74,773.28 657.91,774.85 658.08,776.42 658.25,777.99 658.42,779.55 658.59,781.12 658.76,782.69 658.93,784.26 659.10,785.83 659.27,787.40 659.44,788.96 659.60,790.53 659.77,792.10 659.94,793.67 660.11,795.24 660.28,796.80 660.44,798.37 660.61,799.94 660.78,801.51 660.95,803.08 661.11,804.65 661.28,806.22 661.45,807.78 661.62,809.35 661.78,810.92 661.95,812.49 662.12,814.06 662.28,815.63 662.45,817.20 662.61,818.77 662.78,820.33 662.95,821.90 663.11,823.47 663.28,825.04 663.44,826.61 663.61,828.18 663.78,829.75 663.94,831.32 664.11,832.89 664.27,834.46 664.44,836.02 664.60,837.59 664.77,839.16 664.93,840.73 665.10,842.30 665.26,843.87 665.43,845.44 665.59,847.01 665.76,848.58 665.92,850.15 666.08,851.72 666.25,853.29 666.41,854.86 666.58,856.43 666.74,858.00 666.91,859.57 667.07,861.13 667.23,862.70 667.40,864.27 667.56,865.84 667.73,867.41 667.89,868.98 668.06,870.55 668.22,872.12 668.38,873.69 668.55,875.26 668.71,876.83 668.88,878.40 669.04,879.97 669.20,881.54 669.37,883.11 669.53,884.68 669.70,886.25 669.86,887.82 670.02,889.39 670.19,890.96 670.35,892.53 670.52,894.10 670.68,895.67 670.85,897.24 671.01,898.81 671.17,900.38 671.34,901.95 671.50,903.52 671.67,905.09 671.83,906.66 672.00,908.23 672.16,909.80 672.33,911.37 672.49,912.94 672.66,914.51 672.82,916.08 672.99,917.65 673.15,919.22 673.32,920.79 673.48,922.36 673.65,923.93 673.81,925.50 673.98,927.07 674.14,928.64 674.31,930.21 674.47,931.78 674.64,933.35 674.81,934.92 674.97,936.49 675.14,938.07 675.30,939.64 675.47,941.21 675.64,942.78 675.80,944.35 675.97,945.92 676.14,947.49 676.30,949.06 676.47,950.63 676.64,952.20 676.81,953.77 676.97,955.34 677.14,956.91 677.31,958.48 677.48,960.05 677.64,961.62 677.81,963.19 677.98,964.76 678.15,966.33 678.32,967.90 678.49,969.47 678.66,971.04 678.83,972.61 679.00,974.18 679.16,975.75 679.33,977.32 679.50,978.89 679.67,980.46 679.84,982.03 680.02,983.60 680.19,985.17 680.36,986.75 680.53,988.32 680.70,989.89 680.87,991.46 681.04,993.03 681.21,994.60 681.39,996.17 681.56,997.74 681.73,999.31 681.90,1000.88 682.08,1002.45 682.25,1004.02 682.42,1005.59 682.60,1007.16 682.77,1008.73 682.95,1010.30 683.12,1011.87 683.29,1013.44 683.47,1015.01 683.64,1016.58 683.82,1018.15 684.00,1019.72 684.17,1021.29 684.35,1022.86 684.52,1024.43 684.70,1026.00 684.88,1027.57 685.06,1029.14 685.23,1030.71 685.41,1032.28 685.59,1033.85 685.77,1035.42 685.95,1036.99 686.12,1038.56 686.30,1040.13 686.48,1041.70 686.66,1043.27 686.84,1044.84 687.02,1046.41 687.20,1047.98 687.39,1049.55 687.57,1051.12 687.75,1052.69 687.93,1054.26 688.11,1055.83 688.30,1057.40 688.48,1058.97 688.66,1060.54 688.85,1062.11 689.03,1063.68 689.21,1065.25 689.40,1066.82 689.58,1068.39 689.77,1069.96 689.96,1071.52 690.14,1073.09 690.33,1074.66 690.52,1076.23 690.71,1077.80 690.90,1079.37 691.09,1080.94 691.29,1082.50 691.48,1084.07 691.67,1085.64 691.87,1087.20 692.07,1088.77 692.26,1090.34 692.46,1091.90 692.67,1093.46 692.87,1095.03 693.07,1096.59 693.28,1098.16 693.49,1099.72 693.70,1101.28 693.91,1102.84 694.12,1104.40 694.33,1105.96 694.55,1107.52 694.77,1109.08 694.99,1110.64 695.21,1112.19 695.44,1113.75 695.67,1115.31 695.90,1116.86 696.13,1118.41 696.36,1119.97 696.60,1121.52 696.84,1123.07 697.08,1124.62 697.33,1126.17 697.57,1127.71 697.82,1129.26 698.08,1130.81 698.33,1132.35 698.59,1133.89 698.85,1135.44 699.12,1136.98 699.39,1138.52 699.66,1140.06 699.93,1141.59 700.21,1143.13 700.49,1144.66 700.77,1146.20 701.06,1147.73 701.35,1149.26 701.65,1150.79 701.95,1152.32 702.25,1153.85 702.56,1155.37 702.88,1156.90 703.21,1158.43 703.55,1159.95 703.90,1161.48 704.26,1163.02 704.63,1164.55 705.02,1166.08 705.43,1167.62 705.85,1169.17 706.29,1170.71 706.75,1172.26 707.24,1173.82 707.74,1175.37 708.27,1176.94 708.82,1178.51 709.40,1180.08 710.03,1181.63 710.73,1183.13 711.53,1184.53 712.45,1185.81 713.51,1186.93 714.70,1187.84 715.97,1188.46 717.29,1188.73 718.63,1188.62 719.95,1188.15 721.19,1187.39 722.31,1186.39 723.25,1185.20 724.03,1183.86 724.68,1182.41 725.23,1180.88 725.73,1179.30 726.20,1177.72 726.66,1176.14 727.12,1174.57 727.57,1173.00 728.01,1171.43 728.44,1169.87 728.86,1168.32 729.28,1166.76 729.69,1165.21 730.09,1163.67 730.49,1162.12 730.88,1160.58 731.26,1159.04 731.64,1157.51 732.01,1155.97 732.38,1154.44 732.74,1152.91 733.09,1151.38 733.44,1149.85 733.79,1148.33 734.13,1146.80 734.47,1145.27 734.80,1143.75 735.13,1142.23 735.45,1140.70 735.78,1139.18 736.10,1137.65 736.41,1136.13 736.73,1134.60 737.04,1133.08 737.35,1131.55 737.66,1130.02 737.96,1128.49 738.26,1126.96 738.57,1125.43 738.86,1123.90 739.16,1122.36 739.46,1120.83 739.75,1119.29 740.04,1117.76 740.33,1116.22 740.61,1114.68 740.90,1113.14 741.18,1111.60 741.46,1110.06 741.74,1108.52 742.01,1106.98 742.29,1105.44 742.56,1103.89 742.83,1102.35 743.10,1100.80 743.37,1099.25 743.63,1097.71 743.90,1096.16 744.16,1094.61 744.42,1093.06 744.68,1091.51 744.94,1089.96 745.19,1088.41 745.45,1086.86 745.70,1085.30 745.95,1083.75 746.20,1082.20 746.45,1080.64 746.69,1079.09 746.94,1077.53 747.18,1075.97 747.42,1074.42 747.67,1072.86 747.90,1071.30 748.14,1069.74 748.38,1068.18 748.61,1066.62 748.85,1065.06 749.08,1063.50 749.31,1061.94 749.54,1060.38 749.77,1058.81 750.00,1057.25 750.23,1055.69 750.45,1054.12 750.68,1052.56 750.90,1050.99 751.12,1049.43 751.35,1047.86 751.57,1046.29 751.79,1044.73 752.01,1043.16 752.22,1041.59 752.44,1040.02 752.66,1038.46 752.87,1036.89 753.09,1035.32 753.30,1033.75 753.51,1032.18 753.72,1030.61 753.94,1029.04 754.15,1027.47 754.36,1025.90 754.56,1024.33 754.77,1022.76 754.98,1021.19 755.19,1019.61 755.39,1018.04 755.60,1016.47 755.81,1014.90 756.01,1013.33 756.22,1011.75 756.42,1010.18 756.62,1008.61 756.83,1007.03 757.03,1005.46 757.23,1003.89 757.43,1002.31 757.64,1000.74 757.84,999.17 758.04,997.59 758.24,996.02 758.44,994.45 758.64,992.87 758.84,991.30 759.04,989.72 759.24,988.15 759.44,986.58 759.64,985.00 759.84,983.43 760.04,981.86 760.24,980.28 760.44,978.71 760.64,977.13 760.84,975.56 761.04,973.99 761.24,972.41 761.44,970.84 761.64,969.27 761.84,967.70 762.04,966.12 762.24,964.55 762.44,962.98 762.64,961.41 762.84,959.83 763.04,958.26 763.24,956.69 763.45,955.12 763.65,953.55 763.85,951.98 764.06,950.41 764.26,948.83 764.46,947.26 764.67,945.69 764.87,944.13 765.08,942.56 765.29,940.99 765.49,939.42 765.70,937.85 765.91,936.28 766.12,934.71 766.33,933.15 766.54,931.58 766.75,930.01 766.96,928.45 767.17,926.88 767.38,925.32 767.60,923.75 767.81,922.19 768.02,920.62 768.24,919.06 768.46,917.50 768.67,915.93 768.89,914.37 769.11,912.81 769.32,911.24 769.54,909.68 769.76,908.12 769.98,906.56 770.20,905.00 770.43,903.44 770.65,901.88 770.87,900.32 771.09,898.76 771.32,897.20 771.54,895.64 771.77,894.08 771.99,892.52 772.22,890.96 772.45,889.40 772.67,887.84 772.90,886.29 773.13,884.73 773.36,883.17 773.59,881.61 773.82,880.06 774.05,878.50 774.28,876.94 774.52,875.39 774.75,873.83 774.98,872.28 775.22,870.72 775.45,869.17 775.69,867.61 775.92,866.06 776.16,864.50 776.39,862.95 776.63,861.39 776.87,859.84 777.11,858.28 777.35,856.73 777.59,855.18 777.83,853.62 778.07,852.07 778.31,850.52 778.55,848.96 778.79,847.41 779.03,845.86 779.28,844.30 779.52,842.75 779.76,841.20 780.01,839.65 780.25,838.09 780.50,836.54 780.74,834.99 780.99,833.44 781.24,831.89 781.48,830.33 781.73,828.78 781.98,827.23 782.23,825.68 782.48,824.13 782.73,822.58 782.98,821.02 783.23,819.47 783.48,817.92 783.73,816.37 783.99,814.82 784.24,813.27 784.49,811.72 784.75,810.17 785.00,808.61 785.25,807.06 785.51,805.51 785.76,803.96 786.02,802.41 786.28,800.86 786.53,799.31 786.79,797.76 787.05,796.21 787.31,794.65 787.56,793.10 787.82,791.55 788.08,790.00 788.34,788.45 788.60,786.90 788.86,785.35 789.12,783.80 789.38,782.24 789.65,780.69 789.91,779.14 790.17,777.59 790.43,776.04 790.70,774.49 790.96,772.94 791.22,771.38 791.49,769.83 791.75,768.28 792.02,766.73 792.28,765.18 792.55,763.62 792.82,762.07 793.08,760.52 793.35,758.97 793.62,757.41 793.89,755.86 794.15,754.31 794.42,752.75 794.69,751.20 794.96,749.65 795.23,748.09 795.50,746.54 795.77,744.99 796.04,743.43 796.31,741.88 796.58,740.32 796.85,738.77 797.13,737.21 797.40,735.66 797.67,734.10 797.94,732.55 798.22,730.99 798.49,729.44 798.77,727.88 799.04,726.33 799.32,724.77 799.59,723.21 799.87,721.66 800.14,720.10 800.42,718.55 800.70,716.99 800.98,715.43 801.26,713.88 801.54,712.32 801.82,710.76 802.10,709.21 802.38,707.65 802.66,706.10 802.95,704.54 803.23,702.98 803.52,701.43 803.80,699.87 804.09,698.32 804.38,696.76 804.67,695.20 804.96,693.65 805.25,692.09 805.54,690.54 805.83,688.98 806.12,687.43 806.42,685.87 806.71,684.32 807.01,682.76 807.31,681.21 807.60,679.65 807.90,678.10 808.20,676.55 808.51,674.99 808.81,673.44 809.11,671.88 809.42,670.33 809.72,668.78 810.03,667.23 810.34,665.67 810.65,664.12 810.96,662.57 811.28,661.02 811.59,659.47 811.91,657.92 812.22,656.37 812.54,654.82 812.86,653.27 813.18,651.72 813.50,650.17 813.83,648.62 814.15,647.07 814.48,645.52 814.81,643.98 815.14,642.43 815.47,640.88 815.80,639.34 816.14,637.79 816.47,636.24 816.81,634.70 817.15,633.15 817.49,631.61 817.84,630.07 818.18,628.52 818.53,626.98 818.88,625.44 819.23,623.90 819.58,622.36 819.93,620.82 820.29,619.28 820.65,617.74 821.01,616.20 821.37,614.66 821.73,613.12 822.10,611.59 822.46,610.05 822.83,608.52 823.20,606.98 823.58,605.45 823.95,603.91 824.33,602.38 824.71,600.85 825.09,599.32 825.47,597.78 825.86,596.25 826.25,594.72 826.64,593.20 827.03,591.67 827.42,590.14 827.82,588.61 828.22,587.09 828.62,585.56 829.02,584.04 829.43,582.51 829.84,580.99 830.25,579.47 830.66,577.95 831.08,576.43 831.49,574.91 831.91,573.39 832.34,571.87 832.76,570.36 833.19,568.84 833.62,567.32 834.05,565.81 834.49,564.30 834.93,562.78 835.37,561.27 835.81,559.76 836.25,558.25 836.70,556.74 837.15,555.24 837.61,553.73 838.06,552.22 838.52,550.72 838.98,549.21 839.45,547.71 839.92,546.21 840.39,544.71 840.86,543.21 841.34,541.71 841.81,540.21 842.30,538.72 842.78,537.22 843.27,535.73 843.76,534.23 844.25,532.74 844.75,531.25 845.25,529.76 845.75,528.27 846.26,526.78 846.77,525.30 847.28,523.81 847.79,522.33 848.31,520.84 848.83,519.36 849.36,517.88 849.88,516.40 850.41,514.92 850.95,513.44 851.49,511.97 852.03,510.49 852.57,509.02 853.12,507.55 853.67,506.08 854.22,504.61 854.78,503.14 855.34,501.67 855.90,500.21 856.47,498.74 857.04,497.28 857.61,495.82 858.19,494.36 858.77,492.90 859.36,491.44 859.95,489.99 860.54,488.53 861.13,487.08 861.73,485.63 862.34,484.18 862.94,482.73 863.55,481.28 864.17,479.83 864.78,478.39 865.40,476.94 866.03,475.50 866.66,474.06 867.29,472.62 867.93,471.19 868.57,469.75 869.21,468.32 869.86,466.88 870.51,465.45 871.17,464.02 871.83,462.59 872.49,461.17 873.16,459.74 873.83,458.32 874.50,456.90 875.18,455.48 875.87,454.06 876.55,452.64 877.24,451.23 877.94,449.81 878.64,448.40 879.34,446.99 880.05,445.58 880.76,444.17 881.48,442.77 882.20,441.37 882.93,439.97 883.66,438.57 884.39,437.17 885.13,435.78 885.88,434.39 886.63,433.00 887.38,431.61 888.14,430.23 888.90,428.85 889.67,427.47 890.45,426.09 891.23,424.72 892.01,423.35 892.80,421.98 893.60,420.62 894.40,419.26 895.20,417.90 896.01,416.55 896.83,415.20 897.65,413.85 898.48,412.51 899.32,411.17 900.16,409.83 901.00,408.50 901.85,407.17 902.71,405.85 903.58,404.53 904.45,403.21 905.32,401.90 906.21,400.59 907.09,399.29 907.99,397.99 908.89,396.69 909.80,395.40 910.71,394.12 911.63,392.84 912.56,391.56 913.50,390.29 914.44,389.02 915.39,387.76 916.34,386.50 917.30,385.25 918.27,384.00 919.25,382.76 920.23,381.53 921.22,380.29 922.22,379.07 923.23,377.85 924.24,376.63 925.26,375.43 926.29,374.22 927.32,373.02 928.36,371.83 929.41,370.65 930.47,369.47 931.53,368.29 932.60,367.12 933.68,365.96 934.76,364.80 935.85,363.65 936.95,362.51 938.05,361.37 939.16,360.23 940.28,359.10 941.40,357.98 942.53,356.87 943.67,355.76 944.81,354.65 945.96,353.55 947.11,352.46 948.27,351.38 949.43,350.30 950.61,349.22 951.78,348.15 952.97,347.09 954.16,346.04 955.35,344.99 956.55,343.95 957.75,342.91 958.97,341.88 960.18,340.85 961.40,339.84 962.63,338.82 963.86,337.82 965.10,336.82 966.34,335.83 967.59,334.84 968.84,333.86 970.10,332.89 971.36,331.92 972.62,330.96 973.89,330.01 975.17,329.06 976.45,328.12 977.73,327.19 979.02,326.26 980.31,325.34 981.61,324.43 982.91,323.52 984.22,322.62 985.53,321.73 986.84,320.84 988.16,319.96 989.48,319.09 990.81,318.22 992.13,317.36 993.47,316.51 994.80,315.66 996.14,314.82 997.49,313.99 998.83,313.16 1000.18,312.34 1001.54,311.53 1002.89,310.73 1004.25,309.93 1005.61,309.14 1006.98,308.36 1008.35,307.58 1009.72,306.81 1011.09,306.05 1012.47,305.29 1013.85,304.54 1015.24,303.80 1016.62,303.06 1018.01,302.33 1019.40,301.61 1020.80,300.90 1022.20,300.19 1023.60,299.48 1025.00,298.78 1026.41,298.09 1027.82,297.41 1029.23,296.73 1030.64,296.06 1032.06,295.39 1033.48,294.73 1034.90,294.08 1036.33,293.43 1037.75,292.79 1039.18,292.15 1040.62,291.52 1042.05,290.90 1043.49,290.28 1044.93,289.66 1046.37,289.06 1047.81,288.46 1049.26,287.86 1050.71,287.27 1052.16,286.68 1053.61,286.10 1055.07,285.53 1056.53,284.96 1057.99,284.40 1059.45,283.84 1060.92,283.28 1062.38,282.74 1063.85,282.19 1065.32,281.65 1066.79,281.12 1068.27,280.59 1069.75,280.07 1071.23,279.55 1072.71,279.04 1074.19,278.53 1075.67,278.03 1077.16,277.53 1078.65,277.03 1080.14,276.54 1081.63,276.06 1083.12,275.58 1084.62,275.10 1086.12,274.63 1087.61,274.16 1089.12,273.70 1090.62,273.24 1092.12,272.78 1093.63,272.33 1095.13,271.88 1096.64,271.44 1098.15,271.00 1099.66,270.57 1101.18,270.14 1102.69,269.71 1104.21,269.29 1105.72,268.87 1107.24,268.45 1108.76,268.04 1110.28,267.64 1111.81,267.23 1113.33,266.83 1114.86,266.43 1116.38,266.04 1117.91,265.65 1119.44,265.26 1120.97,264.88 1122.50,264.50 1124.03,264.12 1125.56,263.75 1127.10,263.38 1128.63,263.01 1130.17,262.65 1131.71,262.29 1133.25,261.93 1134.78,261.57 1136.32,261.22 1137.87,260.87 1139.41,260.52 1140.95,260.18 1142.49,259.84 1144.04,259.50 1145.58,259.16 1147.13,258.83 1148.67,258.50 1150.22,258.17 1151.77,257.84 1153.32,257.52 1154.87,257.20 1156.42,256.88 1157.97,256.56 1159.52,256.25 1161.07,255.93 1162.62,255.62 1164.17,255.32 1165.72,255.01 1167.28,254.70 1168.83,254.40 1170.38,254.10 1171.94,253.80 1173.49,253.50 1175.05,253.21 1176.60,252.92 1178.16,252.62 1179.71,252.33 1181.27,252.04 1182.82,251.76 1184.38,251.47 1185.93,251.19 1187.49,250.90 1189.05,250.62 1190.60,250.34 1192.16,250.06 1193.72,249.79 1195.27,249.51 1196.83,249.24 1198.39,248.96 1199.94,248.69 1201.50,248.42 1203.06,248.15 1204.62,247.88 1206.17,247.62 1207.73,247.35 1209.29,247.09 1210.85,246.83 1212.40,246.57 1213.96,246.31 1215.52,246.05 1217.08,245.80 1218.64,245.54 1220.20,245.29 1221.76,245.04 1223.32,244.78 1224.88,244.54 1226.44,244.29 1227.99,244.04 1229.55,243.80 1231.11,243.55 1232.67,243.31 1234.23,243.07 1235.79,242.83 1237.35,242.59 1238.92,242.35 1240.48,242.11 1242.04,241.88 1243.60,241.65 1245.16,241.41 1246.72,241.18 1248.28,240.95 1249.84,240.72 1251.40,240.50 1252.97,240.27 1254.53,240.05 1256.09,239.82 1257.65,239.60 1259.21,239.38 1260.78,239.16 1262.34,238.94 1263.90,238.72 1265.46,238.51 1267.03,238.29 1268.59,238.08 1270.15,237.87 1271.71,237.66 1273.28,237.45 1274.84,237.24 1276.40,237.03 1277.97,236.82 1279.53,236.62 1281.10,236.42 1282.66,236.21 1284.22,236.01 1285.79,235.81 1287.35,235.61 1288.92,235.41 1290.48,235.22 1292.04,235.02 1293.61,234.83 1295.17,234.63 1296.74,234.44 1298.30,234.25 1299.87,234.06 1301.43,233.87 1303.00,233.68 1304.57,233.49 1306.13,233.31 1307.70,233.12 1309.26,232.94 1310.83,232.76 1312.39,232.58 1313.96,232.40 1315.53,232.22 1317.09,232.04 1318.66,231.86 1320.23,231.69 1321.79,231.51 1323.36,231.34 1324.93,231.17 1326.49,230.99 1328.06,230.82 1329.63,230.65 1331.19,230.49 1332.76,230.32 1334.33,230.15 1335.90,229.99 1337.46,229.82 1339.03,229.66 1340.60,229.50 1342.17,229.33 1343.73,229.17 1345.30,229.01 1346.87,228.86 1348.44,228.70 1350.01,228.54 1351.58,228.39 1353.14,228.23 1354.71,228.08 1356.28,227.92 1357.85,227.77 1359.42,227.62 1360.99,227.47 1362.56,227.32 1364.13,227.18 1365.70,227.03 1367.27,226.88 1368.83,226.74 1370.40,226.59 1371.97,226.45 1373.54,226.31 1375.11,226.17 1376.68,226.03 1378.25,225.89 1379.82,225.75 1381.39,225.61 1382.96,225.47 1384.53,225.34 1386.10,225.20 1387.68,225.07 1389.25,224.93 1390.82,224.80 1392.39,224.67 1393.96,224.54 1395.53,224.41 1397.10,224.28 1398.67,224.15 1400.24,224.02 1401.81,223.89 1403.38,223.77 1404.96,223.64 1406.53,223.52 1408.10,223.39 1409.67,223.27 1411.24,223.15 1412.81,223.03 1414.39,222.91 1415.96,222.79 1417.53,222.67 1419.10,222.55 1420.67,222.43 1422.25,222.32 1423.82,222.20 1425.39,222.09 1426.96,221.97 1428.53,221.86 1430.11,221.75 1431.68,221.63 1433.25,221.52 1434.83,221.41 1436.40,221.30 1437.97,221.19 1439.54,221.08 1441.12,220.98 1442.69,220.87 1444.26,220.76 1445.84,220.66 1447.41,220.55 1448.98,220.45 1450.56,220.34 1452.13,220.24 1453.70,220.14 1455.28,220.04 1456.85,219.94 1458.42,219.84 1460.00,219.74 1461.57,219.64 1463.15,219.54 1464.72,219.44 1466.29,219.35 1467.87,219.25 1469.44,219.15 1471.02,219.06 1472.59,218.96 1474.16,218.87 1475.74,218.78 1477.31,218.68 1478.89,218.59 1480.46,218.50 1482.04,218.41 1483.61,218.32 1485.19,218.23 1486.76,218.14 1488.34,218.05 1489.91,217.96 1491.48,217.88 1493.06,217.79 1494.63,217.70 1496.21,217.62 1497.78,217.53 1499.36,217.45 1500.94,217.36 1502.51,217.28 1504.09,217.19 1505.66,217.11 1507.24,217.03 1508.81,216.95 1510.39,216.87 1511.96,216.79 1513.54,216.71 1515.11,216.63 1516.69,216.55 1518.26,216.47 1519.84,216.39 1521.42,216.31 1522.99,216.24 1524.57,216.16 1526.14,216.08 1527.72,216.01 1529.30,215.93 1530.87,215.86 1532.45,215.78 1534.02,215.71 1535.60,215.63 1537.18,215.56 1538.75,215.49 1540.33,215.42 1541.90,215.34 1543.48,215.27 1545.06,215.20 1546.63,215.13 1548.21,215.06 1549.79,214.99 1551.36,214.92 1552.94,214.85 1554.52,214.78 1556.09,214.71 1557.67,214.64 1559.25,214.58 1560.82,214.51 1562.40,214.44 1563.98,214.38 1565.55,214.31 1567.13,214.24 1568.71,214.18 1570.28,214.11 1571.86,214.05 1573.44,213.98 1575.01,213.92 1576.59,213.85 1578.17,213.79 1579.74,213.73 1581.32,213.66 1582.90,213.60 1584.47,213.54 1586.05,213.48 1587.63,213.41 1589.21,213.35 1590.78,213.29 1592.36,213.23 1593.94,213.17 1595.51,213.11 1597.09,213.05 1598.67,212.99 1600.25,212.93 1601.82,212.87 1603.40,212.81 1604.98,212.75 1606.56,212.69 1608.13,212.63 1609.71,212.57 1611.29,212.51 1612.86,212.45 1614.44,212.40 1616.02,212.34 1617.60,212.28 1619.17,212.22 1620.75,212.17 1622.33,212.11 1623.91,212.05 1625.48,212.00 1627.06,211.94 1628.64,211.88 1630.22,211.83 1631.79,211.77 1633.37,211.71 1634.95,211.66 1636.53,211.60 1638.10,211.55 1639.68,211.49 1641.26,211.44 1642.84,211.38 1644.41,211.33 1645.99,211.27 1647.57,211.22 1649.15,211.16 1650.72,211.11 1652.30,211.05 1653.88,211.00 1655.46,210.94 1657.03,210.89 1658.61,210.83 1660.19,210.78 1661.77,210.72 1663.34,210.67 1664.92,210.62 1666.50,210.56 1668.08,210.51 1669.65,210.45 1671.23,210.40 1672.81,210.35 1674.39,210.29 1675.96,210.24 1677.54,210.18 1679.12,210.13 1680.70,210.08 1682.27,210.02 1683.85,209.97 1685.43,209.92 1687.01,209.86 1688.58,209.81 1690.16,209.75 1691.74,209.70 1693.32,209.65 1694.89,209.59 1696.47,209.54 1698.05,209.48 1699.63,209.43 1701.20,209.37 1702.78,209.32 1704.36,209.27 1705.94,209.21 1707.51,209.16 1709.09,209.10 1710.67,209.05 1712.24,208.99 1713.82,208.94 1715.40,208.88 1716.98,208.83 1718.55,208.77 1720.13,208.72 1721.71,208.66 1723.28,208.61 1724.86,208.55 1726.44,208.50 1728.02,208.44 1729.59,208.38 1731.17,208.33 1732.75,208.27 1734.32,208.21 1735.90,208.16 1737.48,208.10 1739.05,208.04 1740.63,207.99 1742.21,207.93 1743.79,207.87 1745.36,207.81 1746.94,207.76 1748.52,207.70 1750.09,207.64 1751.67,207.58 1753.25,207.52 1754.82,207.46 1756.40,207.41 1757.98,207.35 1759.55,207.29 1761.13,207.23 1762.71,207.17 1764.28,207.11 1765.86,207.05 1767.43,206.98 1769.01,206.92 1770.59,206.86 1772.16,206.80 1773.74,206.74 1775.32,206.68 1776.89,206.61 1778.47,206.55 1780.04,206.49 1781.62,206.43 1783.20,206.36 1784.77,206.30 1786.35,206.23 1787.92,206.17 1789.50,206.11 1791.08,206.04 1792.65,205.97 1794.23,205.91 1795.80,205.84 1797.38,205.78 1798.95,205.71 1800.53,205.64 1802.11,205.58 1803.68,205.51 1805.26,205.44 1806.83,205.37 1808.41,205.30 1809.98,205.23 1811.56,205.16 1813.13,205.09 1814.71,205.02 1816.28,204.95 1817.86,204.88 1819.43,204.81 1821.01,204.74 1822.58,204.66 1824.16,204.59 1825.73,204.52 1827.31,204.44 1828.88,204.37 1830.46,204.30 1832.03,204.22 1833.61,204.14 1835.18,204.07 1836.76,203.99 1838.33,203.92 1839.90,203.84 1841.48,203.76 1843.05,203.68 1844.63,203.60 1846.20,203.52 1847.78,203.44 1849.35,203.36 1850.92,203.28 1852.50,203.20 1854.07,203.12 1855.64,203.04 1857.22,202.96 1858.79,202.87 1860.37,202.79 1861.94,202.70 1863.51,202.62 1865.09,202.53 1866.66,202.45 1868.23,202.36 1869.81,202.28 1871.38,202.19 1872.95,202.10 1874.53,202.01 1876.10,201.92 1877.67,201.83 1879.24,201.74 1880.82,201.65 1882.39,201.56"/>
<g stroke="#000" stroke-width="4.6" fill="none" stroke-linecap="butt">
<path d="M217.5,36.0 V1392.8"/>
<path d="M215.2,1390.5 H1884.6"/>
<path d="M191,1390.50 H217.5"/>
<path d="M191,1221.60 H217.5"/>
<path d="M191,1052.70 H217.5"/>
<path d="M191,883.80 H217.5"/>
<path d="M191,714.90 H217.5"/>
<path d="M191,546.00 H217.5"/>
<path d="M191,377.10 H217.5"/>
<path d="M191,208.20 H217.5"/>
<path d="M191,38.95 H217.5" stroke-width="5.8"/>
<path d="M205,1306.05 H217.5"/>
<path d="M205,1137.15 H217.5"/>
<path d="M205,968.25 H217.5"/>
<path d="M205,799.35 H217.5"/>
<path d="M205,630.45 H217.5"/>
<path d="M205,461.55 H217.5"/>
<path d="M205,292.65 H217.5"/>
<path d="M205,123.75 H217.5"/>
<path d="M321.56,1390.5 V1417"/>
<path d="M633.72,1390.5 V1417"/>
<path d="M945.89,1390.5 V1417"/>
<path d="M1258.05,1390.5 V1417"/>
<path d="M1570.22,1390.5 V1417"/>
<path d="M1882.38,1390.5 V1417"/>
<path d="M477.64,1390.5 V1404"/>
<path d="M789.80,1390.5 V1404"/>
<path d="M1101.97,1390.5 V1404"/>
<path d="M1414.13,1390.5 V1404"/>
<path d="M1726.30,1390.5 V1404"/>
</g>
<g font-size="57" text-anchor="end">
<text x="173.5" y="1406.8">0.2</text>
<text x="173.5" y="1237.9">0.3</text>
<text x="173.5" y="1069.0">0.4</text>
<text x="173.5" y="900.1">0.5</text>
<text x="173.5" y="731.2">0.6</text>
<text x="173.5" y="562.3">0.7</text>
<text x="173.5" y="393.4">0.8</text>
<text x="173.5" y="224.5">0.9</text>
<text x="173.5" y="55.6">1.0</text>
</g>
<g font-size="57" text-anchor="middle">
<text x="321.6" y="1478.5">2550</text>
<text x="633.7" y="1478.5">2700</text>
<text x="945.9" y="1478.5">2850</text>
<text x="1258.1" y="1478.5">3000</text>
<text x="1570.2" y="1478.5">3150</text>
<text x="1882.4" y="1478.5">3300</text>
</g>
<text x="955.5" y="1575" font-size="71" text-anchor="middle">Wavelength &#955;(nm)</text>
<text transform="translate(70.3,903.8) rotate(-90)" font-size="70.7">Transimittance</text>
<path d="M1078.5,1128.7 H1234.5" stroke="#4f4f4f" stroke-width="5.2" stroke-linecap="round"/>
<text x="1251" y="1153" font-size="70">Single rectangular stub</text>
<path d="M1078.5,1214.7 H1234.5" stroke="#f03c40" stroke-width="5.2" stroke-linecap="round"/>
<text x="1251" y="1239" font-size="70">All system</text>
<path d="M1078.5,1300.7 H1234.5" stroke="#1a6fde" stroke-width="5.2" stroke-linecap="round"/>
<text x="1251" y="1325" font-size="70">Single DTR</text>
</svg></body></html>
